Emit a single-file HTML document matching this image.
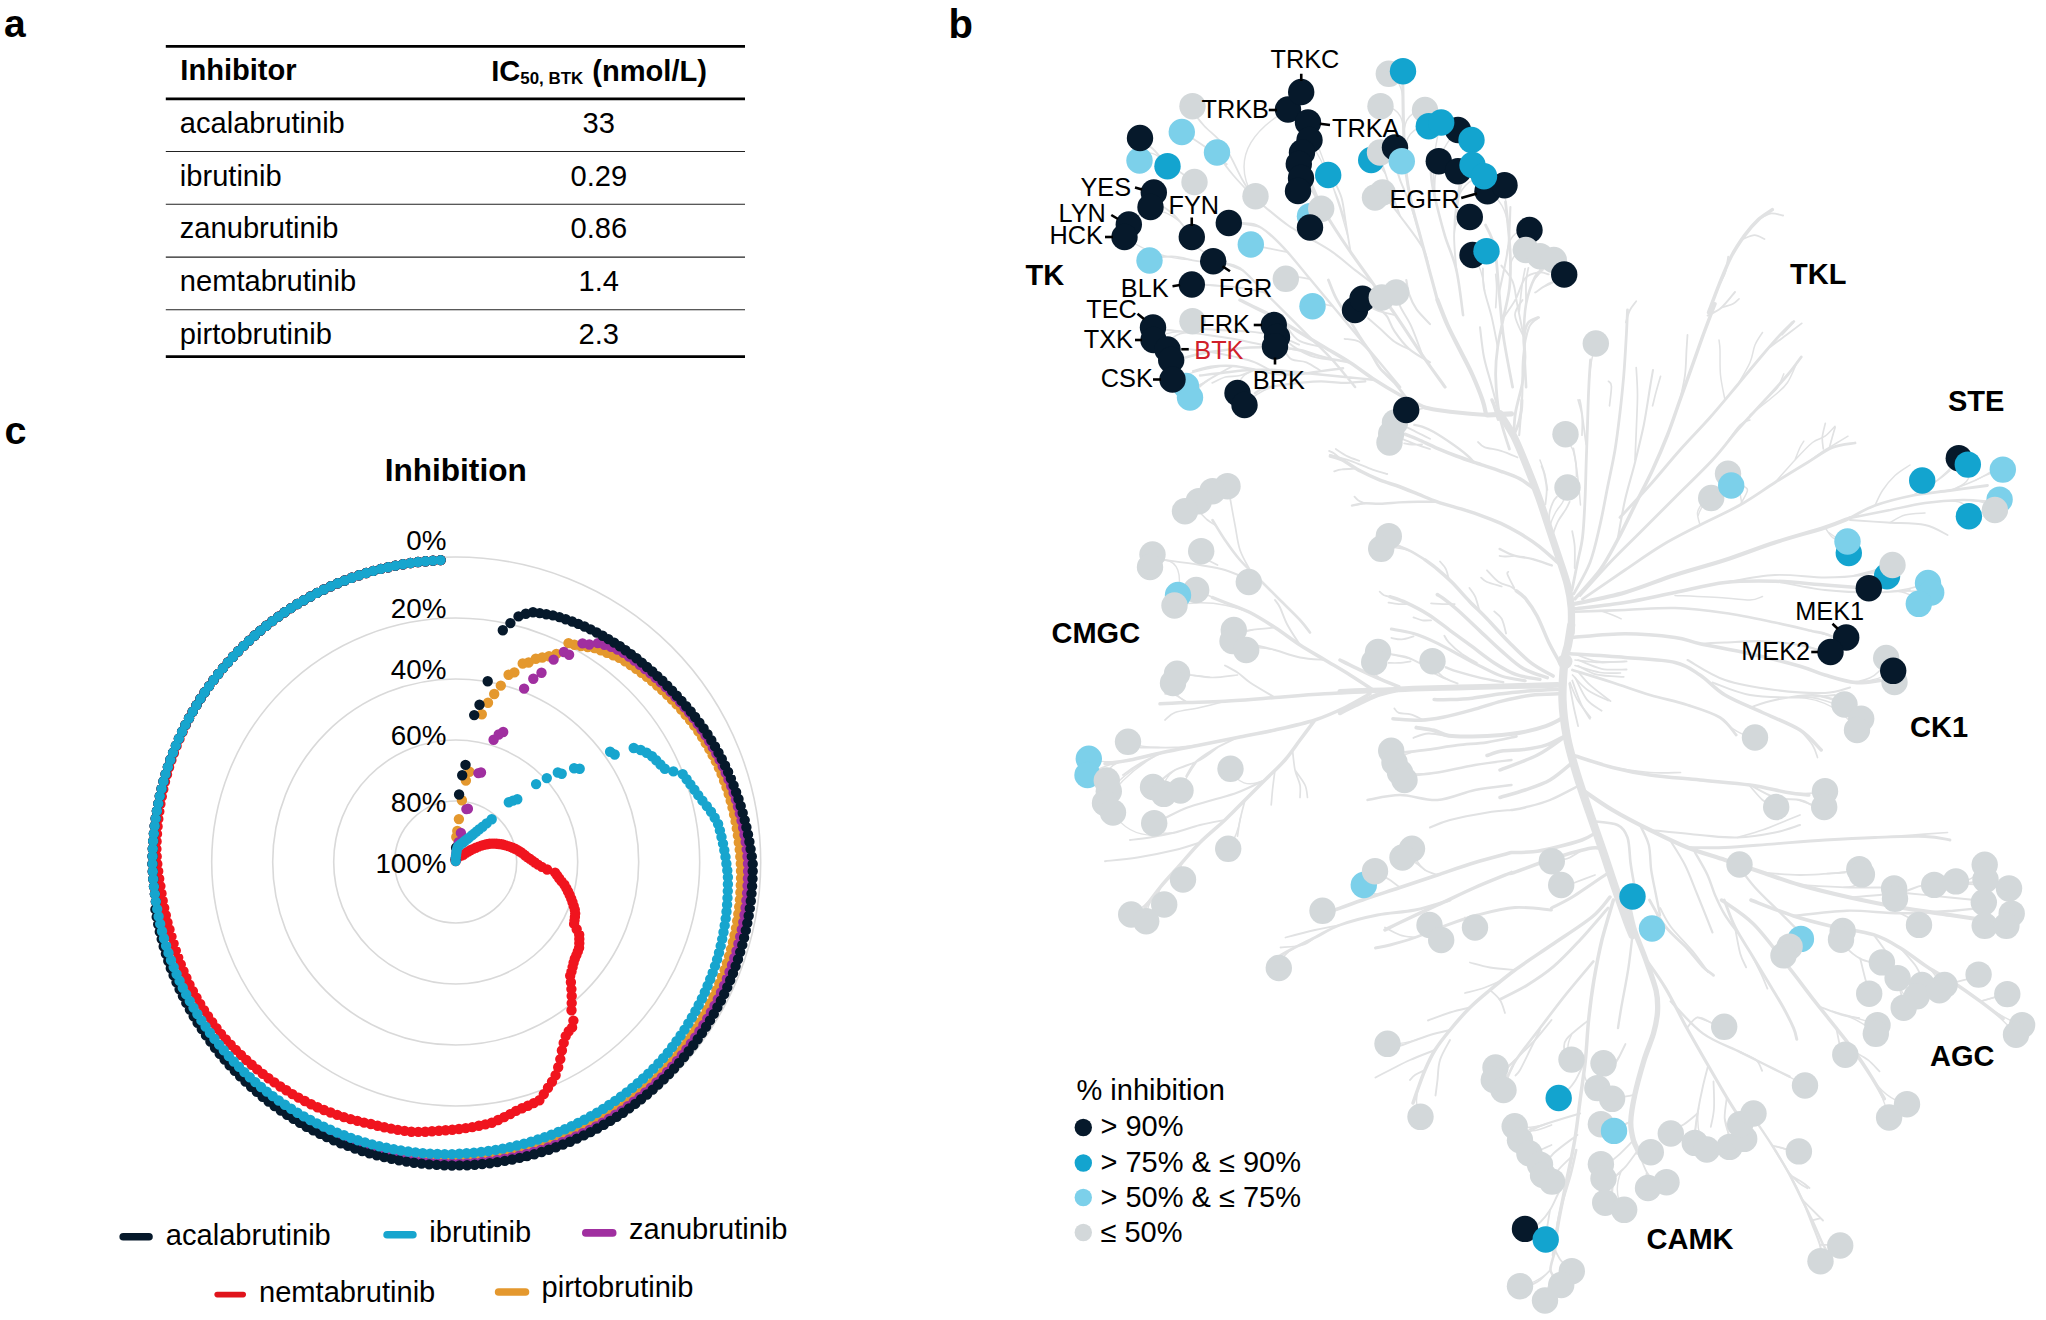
<!DOCTYPE html><html><head><meta charset="utf-8"><title>BTK inhibitor kinome selectivity</title>
<style>html,body{margin:0;padding:0;background:#fff}svg{display:block}text{font-family:"Liberation Sans", Arial, Helvetica, sans-serif;fill:#000}.b{font-weight:bold}</style></head><body>
<svg width="2046" height="1320" viewBox="0 0 2046 1320">
<rect width="2046" height="1320" fill="#fff"/>
<text class="b" x="4.1" y="37.2" font-size="39">a</text>
<text class="b" x="948.5" y="37.5" font-size="40">b</text>
<text class="b" x="4.6" y="444" font-size="39.5">c</text>
<g stroke="#000">
<line x1="165.8" x2="745" y1="46.3" y2="46.3" stroke-width="2.8"/>
<line x1="165.8" x2="745" y1="98.8" y2="98.8" stroke-width="2.8"/>
<line x1="165.8" x2="745" y1="151.5" y2="151.5" stroke-width="1.1" stroke="#222"/>
<line x1="165.8" x2="745" y1="204.3" y2="204.3" stroke-width="1.1" stroke="#222"/>
<line x1="165.8" x2="745" y1="257.1" y2="257.1" stroke-width="1.1" stroke="#222"/>
<line x1="165.8" x2="745" y1="309.7" y2="309.7" stroke-width="1.1" stroke="#222"/>
<line x1="165.8" x2="745" y1="356.7" y2="356.7" stroke-width="2.8"/>
</g>
<text class="b" x="180.3" y="79.8" font-size="29.1">Inhibitor</text>
<text class="b" x="491.2" y="80.8" font-size="29.1">IC<tspan font-size="16.9" dy="2.9">50, BTK</tspan><tspan dy="-2.9" dx="1"> (nmol/L)</tspan></text>
<text x="179.8" y="132.9" font-size="29.1">acalabrutinib</text>
<text x="598.8" y="132.9" font-size="29.1" text-anchor="middle">33</text>
<text x="179.8" y="185.7" font-size="29.1">ibrutinib</text>
<text x="598.8" y="185.7" font-size="29.1" text-anchor="middle">0.29</text>
<text x="179.8" y="238.2" font-size="29.1">zanubrutinib</text>
<text x="598.8" y="238.2" font-size="29.1" text-anchor="middle">0.86</text>
<text x="179.8" y="290.9" font-size="29.1">nemtabrutinib</text>
<text x="598.8" y="290.9" font-size="29.1" text-anchor="middle">1.4</text>
<text x="179.8" y="343.6" font-size="29.1">pirtobrutinib</text>
<text x="598.8" y="343.6" font-size="29.1" text-anchor="middle">2.3</text>
<text class="b" x="455.7" y="480.6" font-size="31.6" text-anchor="middle">Inhibition</text>
<g fill="none" stroke="#d9d9d9" stroke-width="1.6">
<circle cx="455.7" cy="862.0" r="61"/>
<circle cx="455.7" cy="862.0" r="122"/>
<circle cx="455.7" cy="862.0" r="183"/>
<circle cx="455.7" cy="862.0" r="244"/>
<circle cx="455.7" cy="862.0" r="305"/>
</g>
<path d="M455.7 860h0M456.3 837h0M457.3 831h0M458.9 819.1h0M461.9 800.3h0M465.9 780.6h0M469.4 771.8h0M481.8 714.3h0M488 702.8h0M494.2 694h0M500.8 685.6h0M508.6 674.7h0M514.4 672.4h0M522.7 663.5h0M528.6 662.5h0M535.8 658.8h0M542.3 657.5h0M549 656.2h0M556.4 653.9h0M568.5 643.1h0M574.5 644.8h0M581 646h0M587.7 647h0M594.5 648.1h0M600.8 650.3h0M607 652.7h0M613.2 655.2h0M619.3 657.9h0M625.1 661.3h0M630.6 665h0M636.1 668.8h0M641.5 672.7h0M646.8 676.8h0M652 681.1h0M657.1 685.5h0M662.1 690h0M667.1 694.7h0M671.9 699.5h0M676.6 704.4h0M681.2 709.5h0M685.6 714.8h0M690 720.1h0M694.2 725.6h0M698.3 731.2h0M702.1 737h0M705.7 743h0M709.3 749h0M712.6 755.1h0M715.9 761.3h0M718.9 767.7h0M721.6 774.1h0M724.1 780.7h0M726.5 787.3h0M728.7 794h0M730.7 800.8h0M732.5 807.6h0M734.1 814.5h0M735.6 821.4h0M736.8 828.4h0M737.9 835.4h0M738.8 842.5h0M739.7 849.6h0M740.3 856.7h0M740.8 863.8h0M741 870.9h0M741 878.1h0M740.8 885.2h0M740.4 892.4h0M739.9 899.6h0M739.2 906.7h0M738.3 913.9h0M737.2 921h0M736 928.1h0M734.5 935.2h0M732.9 942.2h0M731.1 949.2h0M729.1 956.2h0M726.9 963.1h0M724.6 969.9h0M722 976.7h0M719.3 983.5h0M716.4 990.2h0M713.4 996.8h0M710.1 1003.3h0M706.8 1009.8h0M703.2 1016.1h0M699.5 1022.4h0M695.6 1028.6h0M691.6 1034.7h0M687.4 1040.8h0M683.1 1046.7h0M678.6 1052.5h0M673.9 1058.2h0M669.1 1063.7h0M664.2 1069.2h0M659.1 1074.5h0M653.8 1079.6h0M648.3 1084.6h0M642.8 1089.4h0M637.1 1094.1h0M631.3 1098.7h0M625.4 1103.1h0M619.4 1107.4h0M613.3 1111.5h0M607 1115.5h0M600.7 1119.3h0M594.3 1123h0M587.8 1126.5h0M581.2 1129.8h0M574.5 1133h0M567.7 1136h0M560.9 1138.9h0M553.9 1141.5h0M546.9 1144h0M539.9 1146.3h0M532.8 1148.5h0M525.6 1150.4h0M518.4 1152.2h0M511.1 1153.8h0M503.8 1155.2h0M496.5 1156.5h0M489.1 1157.5h0M481.7 1158.4h0M474.3 1159.1h0M466.9 1159.6h0M459.4 1159.9h0M452 1160h0M444.5 1160h0M437 1159.7h0M429.6 1159.2h0M422.1 1158.6h0M414.7 1157.8h0M407.3 1156.8h0M399.9 1155.6h0M392.6 1154.2h0M385.2 1152.6h0M378 1150.9h0M370.7 1149h0M363.5 1146.9h0M356.4 1144.6h0M349.3 1142.1h0M342.3 1139.4h0M335.3 1136.6h0M328.5 1133.6h0M321.7 1130.5h0M314.9 1127.1h0M308.3 1123.6h0M301.7 1119.9h0M295.3 1116.1h0M288.9 1112.1h0M282.6 1107.9h0M276.4 1103.6h0M270.4 1099.1h0M264.4 1094.5h0M258.6 1089.7h0M252.9 1084.8h0M247.3 1079.7h0M241.8 1074.5h0M236.6 1069.1h0M231.5 1063.6h0M226.5 1057.9h0M221.7 1052.1h0M217 1046.2h0M212.4 1040.1h0M208.1 1034h0M203.8 1027.7h0M199.8 1021.4h0M195.9 1014.9h0M192.1 1008.4h0M188.5 1001.7h0M185.1 995h0M181.9 988.2h0M178.8 981.3h0M175.9 974.3h0M173.2 967.3h0M170.6 960.2h0M168.3 953h0M166.1 945.8h0M164.1 938.5h0M162.2 931.2h0M160.6 923.8h0M159.2 916.4h0M157.9 909h0M155.9 901.6h0M154.9 894.1h0M154 886.6h0M153.3 879h0M152.8 871.5h0M152.5 863.9h0M152.6 856.3h0M152.8 848.7h0M153.2 841.1h0M153.9 833.6h0M154.7 826h0M155.7 818.5h0M156.9 811h0M158.3 803.6h0M159.8 796.1h0M161.6 788.8h0M163.5 781.4h0M165.6 774.1h0M167.9 766.9h0M170.4 759.7h0M173.1 752.6h0M175.9 745.6h0M178.9 738.6h0M182.1 731.7h0M185.4 724.9h0M189 718.2h0M192.7 711.6h0M196.5 705.1h0M200.5 698.6h0M204.7 692.3h0M209.1 686.1h0M213.6 680h0M218.2 674h0M223 668.1h0M227.9 662.4h0M233 656.7h0M238.2 651.2h0M243.6 645.9h0M249.1 640.6h0M254.7 635.5h0M260.4 630.6h0M266.3 625.8h0M272.3 621.1h0M278.4 616.6h0M284.6 612.3h0M290.9 608.1h0M297.3 604h0M303.8 600.2h0M310.4 596.5h0M317.1 592.9h0M323.9 589.5h0M330.8 586.3h0M337.7 583.3h0M344.7 580.5h0M351.8 577.8h0M359 575.3h0M366.2 573h0M373.4 570.9h0M380.8 568.9h0M388.1 567.2h0M395.5 565.6h0M403 564.2h0M410.5 563h0M418 562h0M425.5 561.2h0M433 560.6h0M440.6 560.1h0" fill="none" stroke="#E4982E" stroke-width="10.4" stroke-linecap="round"/>
<path d="M455.7 860h0M455.8 857.7h0M456 855.4h0M456.4 853.1h0M456.9 850h0M457.7 846.1h0M458.7 842.2h0M460.9 832.9h0M466.4 809.1h0M467.9 808.7h0M478.4 773.1h0M481 772.5h0M493.6 739.8h0M498.7 734.5h0M503.2 732h0M524.1 688.6h0M533.3 678.8h0M541.5 672.7h0M553.6 659.6h0M563.9 652h0M569.1 654.7h0M582.5 643.4h0M589.3 644.5h0M597.8 643.1h0M604.5 644.8h0M611.1 646.9h0M617.5 649.5h0M623.5 652.7h0M629 656.6h0M634.5 660.6h0M639.8 664.7h0M645.1 669h0M650.4 673.3h0M655.6 677.8h0M660.7 682.3h0M665.7 687h0M670.6 691.9h0M675.4 696.8h0M680.1 702h0M684.6 707.2h0M689.1 712.6h0M693.4 718.1h0M697.6 723.7h0M701.6 729.5h0M705.5 735.3h0M709.2 741.3h0M712.8 747.4h0M716.3 753.6h0M719.6 759.9h0M722.7 766.3h0M725.7 772.8h0M728.5 779.4h0M731.2 786h0M733.6 792.8h0M735.9 799.6h0M737.9 806.5h0M739.8 813.5h0M741.5 820.6h0M743.1 827.7h0M744.5 834.8h0M745.7 842h0M746.7 849.2h0M747.5 856.5h0M748 863.8h0M748.1 871.2h0M747.9 878.5h0M747.6 885.8h0M747.1 893.1h0M746.4 900.4h0M745.6 907.7h0M744.5 915h0M743.3 922.2h0M741.8 929.5h0M740.2 936.7h0M738.4 943.8h0M736.5 950.9h0M734.3 958h0M732 965h0M729.5 971.9h0M726.9 978.8h0M724 985.6h0M721 992.4h0M717.8 999.1h0M714.5 1005.7h0M710.9 1012.2h0M707.3 1018.7h0M703.4 1025h0M699.4 1031.3h0M695.2 1037.4h0M690.9 1043.5h0M686.4 1049.4h0M681.8 1055.2h0M677 1061h0M672.1 1066.6h0M667.1 1072h0M661.8 1077.4h0M656.4 1082.5h0M650.9 1087.6h0M645.3 1092.5h0M639.5 1097.2h0M633.7 1101.8h0M627.7 1106.3h0M621.6 1110.6h0M615.3 1114.8h0M609 1118.8h0M602.6 1122.7h0M596.1 1126.4h0M589.5 1129.9h0M582.8 1133.3h0M576 1136.5h0M569.1 1139.5h0M562.2 1142.3h0M555.2 1145h0M548.1 1147.5h0M540.9 1149.9h0M533.7 1152h0M526.5 1154h0M519.2 1155.8h0M511.8 1157.4h0M504.4 1158.8h0M497 1160h0M489.5 1161.1h0M482 1162h0M474.5 1162.6h0M467 1163.1h0M459.5 1163.4h0M451.9 1163.5h0M444.4 1163.3h0M436.8 1162.9h0M429.3 1162.4h0M421.8 1161.7h0M414.3 1160.7h0M406.8 1159.6h0M399.4 1158.3h0M392 1156.8h0M384.6 1155.2h0M377.3 1153.3h0M370 1151.3h0M362.8 1149h0M355.7 1146.7h0M348.6 1144.1h0M341.5 1141.3h0M334.6 1138.4h0M327.7 1135.3h0M320.9 1132h0M314.2 1128.6h0M307.5 1124.9h0M301 1121.2h0M294.5 1117.2h0M288.2 1113.1h0M281.9 1108.9h0M275.8 1104.5h0M269.8 1099.9h0M263.9 1095.2h0M258.1 1090.3h0M252.4 1085.3h0M246.9 1080.2h0M241.5 1074.9h0M236.2 1069.4h0M231.1 1063.9h0M226.2 1058.2h0M221.3 1052.4h0M216.7 1046.4h0M212.1 1040.4h0M207.7 1034.2h0M203.5 1027.9h0M199.5 1021.6h0M195.6 1015.1h0M191.8 1008.5h0M188.3 1001.9h0M184.9 995.1h0M181.6 988.3h0M178.6 981.4h0M175.7 974.4h0M173 967.4h0M170.4 960.2h0M168.1 953.1h0M165.9 945.8h0M163.9 938.6h0M162.1 931.2h0M160.5 923.9h0M159 916.4h0M157.8 909h0M155.9 901.6h0M154.9 894.1h0M154 886.6h0M153.3 879h0M152.8 871.5h0M152.5 863.9h0M152.6 856.3h0M152.8 848.7h0M153.2 841.1h0M153.9 833.6h0M154.7 826h0M155.7 818.5h0M156.9 811h0M158.3 803.6h0M159.8 796.1h0M161.6 788.8h0M163.5 781.4h0M165.6 774.1h0M167.9 766.9h0M170.4 759.7h0M173.1 752.6h0M175.9 745.6h0M178.9 738.6h0M182.1 731.7h0M185.4 724.9h0M189 718.2h0M192.7 711.6h0M196.5 705.1h0M200.5 698.6h0M204.7 692.3h0M209.1 686.1h0M213.6 680h0M218.2 674h0M223 668.1h0M227.9 662.4h0M233 656.7h0M238.2 651.2h0M243.6 645.9h0M249.1 640.6h0M254.7 635.5h0M260.4 630.6h0M266.3 625.8h0M272.3 621.1h0M278.4 616.6h0M284.6 612.3h0M290.9 608.1h0M297.3 604h0M303.8 600.2h0M310.4 596.5h0M317.1 592.9h0M323.9 589.5h0M330.8 586.3h0M337.7 583.3h0M344.7 580.5h0M351.8 577.8h0M359 575.3h0M366.2 573h0M373.4 570.9h0M380.8 568.9h0M388.1 567.2h0M395.5 565.6h0M403 564.2h0M410.5 563h0M418 562h0M425.5 561.2h0M433 560.6h0M440.6 560.1h0" fill="none" stroke="#A02FA0" stroke-width="10.4" stroke-linecap="round"/>
<path d="M455.7 861h0M455.7 860.8h0M455.8 860.6h0M455.8 860.4h0M455.9 860.1h0M456 859.9h0M456 859.7h0M456.1 859.5h0M456.2 859.3h0M456.4 859.1h0M456.5 858.9h0M456.6 858.8h0M456.8 858.6h0M456.9 858.4h0M457.1 858.2h0M457.3 858h0M457.5 857.8h0M457.7 857.6h0M457.9 857.4h0M458.2 857.2h0M458.5 857h0M458.7 856.8h0M459 856.6h0M459.3 856.5h0M459.6 856.3h0M459.9 856.2h0M460.2 856.1h0M460.5 856h0M460.9 855.8h0M461.5 855.5h0M462.1 855.2h0M462.7 854.9h0M463.3 854.7h0M464.5 853.9h0M466.5 852.5h0M468.7 851.2h0M470.8 850h0M473.2 848.9h0M475.8 847.7h0M478.5 846.6h0M481.3 845.6h0M484 844.9h0M486.7 844.3h0M489.5 843.8h0M492 843.6h0M494.3 843.6h0M496.7 843.7h0M499 844h0M501.4 844.3h0M503.6 844.8h0M505.9 845.4h0M508.2 846.1h0M510.5 846.9h0M512.7 847.8h0M515 848.8h0M517.2 849.9h0M519.3 851.2h0M521.3 852.5h0M523.2 853.9h0M525.2 855.5h0M527.1 857.1h0M529.7 858.8h0M532.3 860.6h0M534.9 862.5h0M538 864.6h0M541.8 866.9h0M547.1 869.5h0M555.1 872.6h0M557.1 875.4h0M559.1 878.3h0M561.6 881.4h0M564.4 884.8h0M566.3 888.1h0M568 891.5h0M569.7 895h0M571.2 898.6h0M572.5 902.2h0M573.7 906h0M574.8 909.8h0M575.2 913.5h0M574.9 916.9h0M574.5 920.4h0M574.1 923.9h0M576.7 929.2h0M579.2 934.7h0M579.3 939h0M579.3 943.3h0M579.1 947.7h0M577.8 951.4h0M576.4 955.1h0M574.8 958.8h0M573.6 962.7h0M572.6 967.1h0M571.5 971.5h0M570.2 975.8h0M570.9 982.3h0M571.4 989.1h0M571.7 996h0M571.7 1003.1h0M571.5 1010.2h0M573.4 1020.6h0M572.1 1027.4h0M568.7 1031.3h0M565.7 1036.1h0M563.7 1042.9h0M561.9 1050.5h0M560.3 1059.1h0M558.2 1067.3h0M555.6 1075.2h0M552 1081.8h0M548 1087.7h0M543.8 1094.1h0M539.4 1100.3h0M533.7 1103.1h0M527.9 1105.7h0M522 1108.2h0M516 1110.9h0M510.2 1114.1h0M504.2 1117.1h0M498.1 1120h0M491.8 1122.8h0M485.4 1124.4h0M478.9 1125.8h0M472.3 1127.1h0M465.7 1128.1h0M459 1129h0M452.3 1129.8h0M445.6 1130.3h0M438.9 1130.8h0M432 1131.3h0M425.2 1131.7h0M418.3 1131.9h0M411.4 1131.8h0M404.6 1130.9h0M397.8 1129.9h0M391.1 1128.6h0M384.3 1127.3h0M377.6 1125.7h0M370.9 1124h0M364.1 1122.6h0M357.4 1120.9h0M350.6 1119.1h0M343.9 1117.1h0M337.2 1114.9h0M330.6 1112.5h0M324 1110h0M317.5 1107.3h0M311.1 1104.2h0M304.8 1101h0M298.5 1097.6h0M292.4 1094.1h0M286.3 1090.3h0M280.3 1086.5h0M274.4 1082.4h0M268.5 1078.2h0M262.8 1073.9h0M257.2 1069.4h0M251.7 1064.8h0M246.3 1060h0M241 1055h0M235.8 1049.9h0M230.7 1044.7h0M225.8 1039.4h0M221 1033.9h0M216.5 1028.1h0M212.2 1022.2h0M208 1016.2h0M204 1010.1h0M200.2 1003.9h0M196.5 997.6h0M192.9 991.2h0M189.5 984.7h0M186.4 978h0M183.5 971.3h0M180.8 964.4h0M178.2 957.6h0M175.8 950.6h0M173.6 943.6h0M171.5 936.6h0M169.5 929.5h0M167.5 922.4h0M165.8 915.2h0M164.2 908h0M162.7 900.7h0M161.5 893.4h0M160.4 886.1h0M159.2 878.7h0M158.2 871.3h0M157.3 863.9h0M156.7 856.4h0M156.4 848.9h0M156.6 841.4h0M157 833.9h0M157.6 826.4h0M158.3 818.9h0M159.3 811.4h0M160.4 804h0M161.8 796.6h0M163.3 789.2h0M165 781.8h0M167 774.5h0M169.1 767.3h0M171.4 760.1h0M173.9 753h0M176.6 745.9h0M179.5 738.9h0M182.5 732h0M185.7 725.1h0M189.1 718.3h0M192.7 711.6h0M196.5 705.1h0M200.5 698.6h0M204.7 692.3h0M209.1 686.1h0M213.6 680h0M218.2 674h0M223 668.1h0M227.9 662.4h0M233 656.7h0M238.2 651.2h0M243.6 645.9h0M249.1 640.6h0M254.7 635.5h0M260.4 630.6h0M266.3 625.8h0M272.3 621.1h0M278.4 616.6h0M284.6 612.3h0M290.9 608.1h0M297.3 604h0M303.8 600.2h0M310.4 596.5h0M317.1 592.9h0M323.9 589.5h0M330.8 586.3h0M337.7 583.3h0M344.7 580.5h0M351.8 577.8h0M359 575.3h0M366.2 573h0M373.4 570.9h0M380.8 568.9h0M388.1 567.2h0M395.5 565.6h0M403 564.2h0M410.5 563h0M418 562h0M425.5 561.2h0M433 560.6h0M440.6 560.1h0" fill="none" stroke="#F0141E" stroke-width="10.4" stroke-linecap="round"/>
<path d="M455.7 859h0M456.1 847.8h0M459.1 794.5h0M462.2 775.2h0M465.5 764.9h0M474.2 715.1h0M479.5 704.7h0M487.7 681.2h0M502.8 630.2h0M510.4 623.1h0M518.5 616.4h0M525.8 613.8h0M533 612.3h0M539.7 613.1h0M546.3 614.2h0M552.9 615.4h0M559.4 617.1h0M565.7 619.2h0M572.1 621.5h0M578.3 623.9h0M584.5 626.5h0M590.6 629.4h0M596.6 632.5h0M602.6 635.7h0M608.4 639.1h0M614.2 642.6h0M619.9 646.3h0M625.5 650.2h0M631 654.2h0M636.5 658.3h0M641.8 662.6h0M647 667h0M652.3 671.5h0M657.4 676.1h0M662.4 680.8h0M667.3 685.7h0M672.1 690.7h0M676.8 695.8h0M681.5 700.9h0M686.2 706.2h0M690.7 711.5h0M695.1 717h0M699.4 722.6h0M703.6 728.4h0M707.5 734.3h0M711.3 740.3h0M715 746.4h0M718.5 752.7h0M721.8 759h0M725 765.5h0M728.1 772h0M730.9 778.6h0M733.6 785.4h0M736.1 792.2h0M738.5 799h0M740.7 806h0M742.7 813h0M744.7 820.1h0M746.4 827.3h0M748 834.5h0M749.4 841.7h0M750.6 849.1h0M751.8 856.4h0M752.7 863.9h0M752.7 871.3h0M752.5 878.7h0M752.1 886.2h0M751.5 893.6h0M750.8 901h0M749.8 908.4h0M748.7 915.8h0M747.3 923.1h0M745.8 930.4h0M744.1 937.7h0M742.3 944.9h0M740.2 952.1h0M738 959.2h0M735.6 966.3h0M733 973.3h0M730.2 980.3h0M727.3 987.2h0M724.2 994h0M720.9 1000.7h0M717.4 1007.3h0M713.8 1013.9h0M710 1020.4h0M706.1 1026.8h0M702 1033.1h0M697.7 1039.2h0M693.3 1045.3h0M688.7 1051.3h0M684 1057.1h0M679.1 1062.9h0M674.1 1068.5h0M669 1074h0M663.7 1079.3h0M658.2 1084.5h0M652.7 1089.6h0M647 1094.5h0M641.1 1099.3h0M635.2 1103.9h0M629.1 1108.4h0M623 1112.7h0M616.7 1116.9h0M610.3 1120.9h0M603.8 1124.8h0M597.2 1128.5h0M590.5 1132.1h0M583.8 1135.4h0M576.9 1138.6h0M570 1141.7h0M563 1144.5h0M555.9 1147.2h0M548.8 1149.7h0M541.6 1152h0M534.3 1154.2h0M527 1156.1h0M519.6 1157.9h0M512.2 1159.5h0M504.8 1160.9h0M497.3 1162.1h0M489.8 1163.2h0M482.2 1164h0M474.7 1164.7h0M467.1 1165.2h0M459.5 1165.4h0M451.9 1165.5h0M444.3 1165.3h0M436.7 1164.9h0M429.1 1164.4h0M421.6 1163.6h0M414 1162.7h0M406.5 1161.6h0M399 1160.3h0M391.6 1158.8h0M384.2 1157.1h0M376.8 1155.2h0M369.5 1153.2h0M362.2 1151h0M355 1148.5h0M347.9 1145.9h0M340.8 1143.2h0M333.8 1140.2h0M326.8 1137.1h0M320 1133.8h0M313.2 1130.3h0M306.5 1126.7h0M300 1122.9h0M293.5 1118.9h0M287.1 1114.8h0M280.8 1110.5h0M274.6 1106.1h0M268.6 1101.5h0M262.6 1096.7h0M256.8 1091.8h0M251.1 1086.8h0M245.5 1081.6h0M240.1 1076.3h0M234.8 1070.8h0M229.6 1065.2h0M224.6 1059.5h0M219.7 1053.7h0M215 1047.7h0M210.4 1041.6h0M206 1035.4h0M201.8 1029.1h0M197.6 1022.7h0M193.7 1016.2h0M189.9 1009.6h0M186.3 1002.9h0M182.9 996.1h0M179.6 989.2h0M176.5 982.3h0M173.6 975.3h0M170.8 968.2h0M168.3 961h0M165.9 953.8h0M163.7 946.5h0M161.7 939.1h0M159.8 931.8h0M158.2 924.3h0M156.7 916.9h0M155.4 909.4h0M155.9 901.6h0M154.9 894.1h0M154 886.6h0M153.3 879h0M152.8 871.5h0M152.5 863.9h0M152.6 856.3h0M152.8 848.7h0M153.2 841.1h0M153.9 833.6h0M154.7 826h0M155.7 818.5h0M156.9 811h0M158.3 803.6h0M159.8 796.1h0M161.6 788.8h0M163.5 781.4h0M165.6 774.1h0M167.9 766.9h0M170.4 759.7h0M173.1 752.6h0M175.9 745.6h0M178.9 738.6h0M182.1 731.7h0M185.4 724.9h0M189 718.2h0M192.7 711.6h0M196.5 705.1h0M200.5 698.6h0M204.7 692.3h0M209.1 686.1h0M213.6 680h0M218.2 674h0M223 668.1h0M227.9 662.4h0M233 656.7h0M238.2 651.2h0M243.6 645.9h0M249.1 640.6h0M254.7 635.5h0M260.4 630.6h0M266.3 625.8h0M272.3 621.1h0M278.4 616.6h0M284.6 612.3h0M290.9 608.1h0M297.3 604h0M303.8 600.2h0M310.4 596.5h0M317.1 592.9h0M323.9 589.5h0M330.8 586.3h0M337.7 583.3h0M344.7 580.5h0M351.8 577.8h0M359 575.3h0M366.2 573h0M373.4 570.9h0M380.8 568.9h0M388.1 567.2h0M395.5 565.6h0M403 564.2h0M410.5 563h0M418 562h0M425.5 561.2h0M433 560.6h0M440.6 560.1h0" fill="none" stroke="#06192B" stroke-width="10.4" stroke-linecap="round"/>
<path d="M455.7 861h0M455.8 858h0M456.1 855h0M456.5 852h0M456.9 849.6h0M457.5 847.6h0M458.1 846.5h0M458.5 846.1h0M459 845.7h0M459.5 845.3h0M460.1 844.8h0M460.7 844.3h0M461.3 843.8h0M462 843.3h0M462.8 842.7h0M463.6 842h0M464.5 841.3h0M465.4 840.5h0M466.5 839.6h0M467.7 838.7h0M469.1 837.6h0M470.6 836.4h0M472.3 835h0M474.3 833.4h0M476.6 831.5h0M479.3 829.3h0M482.6 826.7h0M486.6 823.4h0M491.7 819.3h0M508.8 802.2h0M513 800.6h0M517.3 799.2h0M536.1 784.1h0M546.8 778.1h0M557.8 772.5h0M561.7 773.7h0M574.1 768.2h0M579.7 768.8h0M610.1 751.8h0M614.7 754.5h0M633.7 748h0M640.7 750h0M646.6 752.8h0M652 756.2h0M656.2 760.3h0M660.4 764.5h0M664.8 768.8h0M673.4 771.4h0M682.7 774.1h0M686.6 779.2h0M690.4 784.4h0M694.4 789.7h0M698.2 795.1h0M702.4 800.6h0M706.8 806.1h0M711 811.8h0M714.7 817.8h0M718.1 824h0M719.9 830.4h0M721.5 837h0M723 843.6h0M724.3 850.2h0M725.5 856.9h0M726.4 863.7h0M727.3 870.5h0M727.9 877.3h0M727.9 884.2h0M727.8 891.1h0M727.5 897.9h0M727.1 904.8h0M726.5 911.7h0M725.7 918.6h0M724.7 925.4h0M723.5 932.3h0M722.2 939.1h0M720.7 945.9h0M719 952.7h0M717.1 959.4h0M715 966.1h0M712.7 972.7h0M710.2 979.3h0M707.6 985.8h0M704.8 992.3h0M701.9 998.7h0M698.7 1005h0M695.4 1011.3h0M691.9 1017.5h0M688.3 1023.5h0M684.5 1029.6h0M680.6 1035.5h0M676.5 1041.3h0M672.2 1047h0M667.8 1052.7h0M663.2 1058.1h0M658.4 1063.4h0M653.4 1068.6h0M648.3 1073.6h0M643.1 1078.5h0M637.7 1083.2h0M632.2 1087.9h0M626.6 1092.4h0M620.9 1096.7h0M615.1 1100.9h0M609.1 1105h0M603.1 1108.9h0M597 1112.7h0M590.7 1116.3h0M584.4 1119.7h0M578 1123h0M571.5 1126.2h0M564.9 1129.2h0M558.3 1132h0M551.5 1134.7h0M544.7 1137.2h0M537.9 1139.5h0M531 1141.7h0M524 1143.7h0M516.9 1145.5h0M509.9 1147.1h0M502.7 1148.6h0M495.6 1149.9h0M488.4 1151h0M481.2 1151.9h0M473.9 1152.7h0M466.6 1153.3h0M459.4 1153.8h0M452 1154.1h0M444.7 1154.1h0M437.4 1154h0M430.1 1153.6h0M422.8 1153.1h0M415.5 1152.4h0M408.2 1151.5h0M400.9 1150.5h0M393.7 1149.2h0M386.4 1147.8h0M379.2 1146.2h0M372.1 1144.4h0M365 1142.4h0M357.9 1140.2h0M350.9 1137.9h0M344 1135.3h0M337.1 1132.6h0M330.3 1129.7h0M323.6 1126.6h0M316.9 1123.4h0M310.3 1120h0M303.8 1116.4h0M297.4 1112.7h0M291.1 1108.8h0M284.9 1104.7h0M278.7 1100.5h0M272.7 1096.1h0M266.8 1091.6h0M261 1087h0M255.3 1082.1h0M249.8 1077.2h0M244.3 1072.1h0M239 1066.8h0M233.8 1061.5h0M228.8 1056h0M223.8 1050.3h0M219.1 1044.6h0M214.4 1038.7h0M209.9 1032.7h0M205.6 1026.6h0M201.4 1020.4h0M197.4 1014h0M193.5 1007.6h0M189.8 1001.1h0M186.2 994.4h0M182.8 987.7h0M179.6 980.9h0M176.6 974.1h0M173.7 967.1h0M171 960.1h0M168.5 952.9h0M166.1 945.8h0M164 938.5h0M162 931.2h0M160.2 923.9h0M158.6 916.5h0M157.2 909.1h0M155.9 901.6h0M154.9 894.1h0M154 886.6h0M153.3 879h0M152.8 871.5h0M152.5 863.9h0M152.6 856.3h0M152.8 848.7h0M153.2 841.1h0M153.9 833.6h0M154.7 826h0M155.7 818.5h0M156.9 811h0M158.3 803.6h0M159.8 796.1h0M161.6 788.8h0M163.5 781.4h0M165.6 774.1h0M167.9 766.9h0M170.4 759.7h0M173.1 752.6h0M175.9 745.6h0M178.9 738.6h0M182.1 731.7h0M185.4 724.9h0M189 718.2h0M192.7 711.6h0M196.5 705.1h0M200.5 698.6h0M204.7 692.3h0M209.1 686.1h0M213.6 680h0M218.2 674h0M223 668.1h0M227.9 662.4h0M233 656.7h0M238.2 651.2h0M243.6 645.9h0M249.1 640.6h0M254.7 635.5h0M260.4 630.6h0M266.3 625.8h0M272.3 621.1h0M278.4 616.6h0M284.6 612.3h0M290.9 608.1h0M297.3 604h0M303.8 600.2h0M310.4 596.5h0M317.1 592.9h0M323.9 589.5h0M330.8 586.3h0M337.7 583.3h0M344.7 580.5h0M351.8 577.8h0M359 575.3h0M366.2 573h0M373.4 570.9h0M380.8 568.9h0M388.1 567.2h0M395.5 565.6h0M403 564.2h0M410.5 563h0M418 562h0M425.5 561.2h0M433 560.6h0M440.6 560.1h0" fill="none" stroke="#17A5CE" stroke-width="10.4" stroke-linecap="round"/>
<text x="446.5" y="549.6" font-size="27.8" text-anchor="end">0%</text>
<text x="446.5" y="617.5" font-size="27.8" text-anchor="end">20%</text>
<text x="446.5" y="679" font-size="27.8" text-anchor="end">40%</text>
<text x="446.5" y="745" font-size="27.8" text-anchor="end">60%</text>
<text x="446.5" y="812" font-size="27.8" text-anchor="end">80%</text>
<text x="446.5" y="873.2" font-size="27.8" text-anchor="end">100%</text>
<line x1="123.2" x2="149" y1="1236.8" y2="1236.8" stroke="#06192B" stroke-width="7.6" stroke-linecap="round"/>
<text x="165.8" y="1244.5" font-size="29.1">acalabrutinib</text>
<line x1="387.1" x2="412.9" y1="1234.7" y2="1234.7" stroke="#17A5CE" stroke-width="7.6" stroke-linecap="round"/>
<text x="429.3" y="1242.1" font-size="29.1">ibrutinib</text>
<line x1="585.8" x2="612.7" y1="1232.9" y2="1232.9" stroke="#A02FA0" stroke-width="7.6" stroke-linecap="round"/>
<text x="629" y="1239.4" font-size="29.1">zanubrutinib</text>
<line x1="217.2" x2="243.2" y1="1294.6" y2="1294.6" stroke="#E0141C" stroke-width="5.6" stroke-linecap="round"/>
<text x="259" y="1301.9" font-size="29.1">nemtabrutinib</text>
<line x1="498.6" x2="525.5" y1="1292" y2="1292" stroke="#E4982E" stroke-width="7.6" stroke-linecap="round"/>
<text x="541.5" y="1297.3" font-size="29.1">pirtobrutinib</text>
<g fill="none" stroke="#e1e2e3" stroke-linecap="round" stroke-linejoin="round">
<path d="M1388.8 73.8Q1402.8 81 1403.1 102.4M1403 71.2Q1402.8 81 1403 96.3M1288 109.5Q1224.5 146.3 1252.7 196.2M1308 122.5Q1332.6 177.8 1348.1 237M1309.5 140Q1332.6 177.8 1345.6 222M1302 152.5Q1310.1 184.5 1327.5 216.6M1298.8 164Q1310.1 184.5 1322.4 208.2M1301 178Q1310.1 184.5 1317.6 199.5M1298 191Q1310.1 184.5 1317.6 199.5M1139.5 160.5Q1147.1 145.4 1162.6 160.1M1128.8 224.5Q1150.3 198 1179 221M1124.5 237Q1152.5 257.7 1191.1 259.8M1228.8 223Q1242.5 223.2 1258.7 226.8M1191.8 284.5Q1204.3 284.7 1220 285.8M1153 327.5Q1166.7 330 1184.6 331.9M1153.5 340Q1166.7 330 1187.7 332.3M1167.5 349.5Q1170.4 330.3 1194 333.1M1310 216.2Q1322.4 208.2 1332.6 225M1310 227.5Q1304.4 235.2 1315.7 241.9M1380.5 106.2Q1403.2 105.4 1403.9 132.8M1425 110Q1403.3 111.5 1404.1 135.8M1428.8 126.2Q1403.6 126.8 1405.1 156.8M1441.2 122.5Q1430.5 157.5 1434.8 196.1M1458 130Q1430.5 157.5 1435.5 199.3M1471.5 140Q1460.9 180 1454.9 224M1395 147.5Q1404.7 147.8 1405.4 162.8M1380 152.5Q1376.5 162.5 1385.1 173.3M1458 171.2Q1460.9 180 1458.3 192.9M1472.5 165Q1460.9 180 1456.4 202.5M1484 176.2Q1460.9 180 1456.2 205.6M1487.5 191.2Q1505.5 201.8 1508.1 226.2M1504.5 185.2Q1505.5 201.8 1507.8 223.1M1469.8 217Q1455.5 214.8 1454.3 233.2M1472.5 255Q1482.9 268.5 1484.7 291M1529.5 230Q1509.2 228.9 1506.9 253.6M1525.8 250Q1510 252.1 1510 271.7M1540 256.2Q1544.1 267.8 1534.1 279.8M1553.8 260Q1544.1 267.8 1534.1 279.8M1564.2 274.5Q1557.6 281.3 1543.2 287.2M1595.8 343.5Q1590.5 360 1589.1 381.4M1171.2 360Q1185.5 357.5 1203.1 353.3M1172.5 379.5Q1193.2 371.1 1220.3 366.4M1186 386Q1196.1 388.8 1209.4 379.4M1190 397.5Q1196.1 388.8 1209.4 379.4M1237.5 393Q1236.6 375.9 1254.9 369.7M1244.5 405Q1254.9 393.2 1273.3 386.6M1395 422.5Q1406.3 427 1406.3 427M1391.2 433.8Q1401.9 438.8 1401.9 438.8M1389.5 442.5Q1401.9 438.8 1401.9 438.8M1227.5 486.2Q1230 497.5 1230 497.5M1212.5 491.2Q1230 497.5 1230 497.5M1198.8 501.2Q1200 512.5 1200 512.5M1185 511.2Q1200 512.5 1200 512.5M1388.8 536.2Q1394.4 545.3 1410.6 551.2M1381.2 548.8Q1394.4 545.3 1410.6 551.2M1152.5 554.5Q1165 560 1165 560M1150 567Q1165 560 1165 560M1201.2 551.2Q1207.5 560 1207.5 560M1196.2 590Q1212.5 597.5 1234.4 606.2M1178 595Q1184.1 562.7 1165 560M1174.5 605.5Q1212.5 597.5 1250 612.5M1728 473.8Q1740 485 1741.5 502M1711.2 498Q1702.5 502.5 1698.1 515.6M1958.8 458.2Q1950 470.5 1934.7 482.2M1967.8 464.6Q1975 480.5 1956.2 488M2002.8 469.6Q1990 472.5 1975 480.5M1999.6 499.6Q1987.5 501.5 1971.9 500.6M1994.9 510Q1987.5 501.5 1971.9 500.6M1968.9 516.2Q1968.8 500.4 1950 501M1848.8 553Q1842.5 541.2 1828.8 532.5M1887 576.2Q1875 570.5 1859.4 575.2M1892.5 565Q1875 570.5 1853.1 575.6M1928 583Q1910 590 1887.7 591.6M1931.2 592.5Q1910 590 1884.5 591.8M1918.8 603.8Q1910 590 1890.9 591.4M1232.5 641Q1237.5 632.5 1253.1 629.7M1246.2 650Q1257.5 645.5 1275 650M1177 673.8Q1190.5 675 1209.4 677.1M1173 683Q1171.7 694.6 1187.5 702.5M1378 652Q1391.4 654.1 1409.5 658.5M1374.2 662Q1368.5 673.7 1386.2 681.5M1432.5 661.2Q1434.1 673.2 1448.8 679.9M1128 741.8Q1140.5 747.5 1159.4 747.5M1088.8 758.8Q1105 763.8 1126.9 760.5M1087.5 775Q1105 763.8 1130 760M1106.8 780.5Q1105 763.8 1126.9 760.5M1108.8 791.2Q1123 775 1145.8 760.8M1105 803Q1123 775 1154.2 756.7M1113 812.5Q1130 840 1165.6 834.4M1153 787Q1161.2 780 1175 770M1163.8 793.8Q1161.2 780 1175 770M1180.5 790.5Q1186.2 776.2 1197.5 760.7M1230.5 768.8Q1240.2 791.2 1265 780M1154.2 823.2Q1156.2 836.2 1175 832.5M1228.2 848.8Q1237.5 836.2 1240.8 816.7M1391.2 750.8Q1403.2 752.6 1418.8 750.7M1394.5 762.5Q1403.2 752.6 1421.9 750.4M1400 772.5Q1413.8 775 1430.7 773.2M1404.5 780Q1413.8 775 1430.7 773.2M1412 848.8Q1413.8 860 1425 870M1402.5 857.5Q1413.8 860 1425 870M1363.8 885Q1368.3 898.1 1385.6 892.3M1164.2 904.5Q1152.5 897.5 1164 883M1131.2 914.5Q1145 907.5 1156.2 892.5M1146.2 921.2Q1145 907.5 1156.2 892.5M1322.5 910.8Q1335 910 1350.3 904.4M1846.2 637.5Q1833.8 637.5 1818.8 632.5M1830.5 652Q1818.8 650 1803.1 645.8M1886.2 658Q1880 680.5 1852 681.8M1894.5 682Q1880 680.5 1861.2 682M1893.2 670.8Q1880 680.5 1858.1 682.2M1844.5 704.5Q1836.2 700 1821.4 696.9M1861.2 718.8Q1836.2 700 1803.1 696.2M1857 730Q1836.2 700 1796.9 697.1M1755 737.5Q1736.2 735 1720 717.5M1825 791.2Q1808.8 795 1787.5 792.5M1824.2 807Q1812.5 805.5 1796.9 799.7M1652 928.5Q1662.3 921.4 1652.7 905.3M1859.3 869.2Q1845 872.5 1827 873.5M1861.9 874.4Q1862.2 887.5 1843.8 887.2M1984.7 864.8Q1975 882.5 1950 883.8M1985.5 879.6Q1975 882.5 1959.4 883.3M2009 888.4Q1975 882.5 1937.5 884.4M2011.7 913.6Q2000 922.5 1981.2 919.7M1789.6 946.7Q1785.6 957.4 1788.2 966.7M1916.7 996.3Q1903 1001.4 1898 981.8M1939.4 990.2Q1940.9 977.9 1927 966.7M2007.3 994.1Q1996.9 996.6 1980.4 1001.4M1877.5 1025.1Q1859 1018 1835.5 1012.5M1875.8 1033.8Q1859 1018 1832.5 1011.3M2022.1 1025.1Q2003.1 1018.8 1982.9 1003.3M2016 1034.7Q2003.1 1018.8 1982.9 1003.3M1845.3 1054.7Q1853.1 1049.7 1843.7 1037.7M1724.2 1026.8Q1712.2 1023.3 1697.5 1017.4M1805 1085.5Q1789.6 1076.7 1769.7 1066.9M1907 1104.2Q1884.3 1098.8 1871 1076.1M1889.1 1117.5Q1884.3 1098.8 1872.6 1079M1571.5 1059.6Q1564.1 1049.5 1571.6 1034.6M1603.5 1063.3Q1611.8 1068.1 1619 1056.9M1495.5 1067.5Q1505.5 1070 1515 1060M1493.8 1080Q1505.9 1081.5 1513.1 1066.2M1597.4 1088.1Q1582.1 1084.8 1584.6 1066.3M1600.9 1124.2Q1614.8 1129.5 1630.8 1121.5M1514.7 1126.3Q1529.4 1129.5 1547.4 1123.5M1520 1140.2Q1529.4 1129.5 1547.4 1123.5M1694.8 1142.9Q1694.8 1132.7 1697 1116.7M1706.8 1149.5Q1694.8 1132.7 1698.7 1107.6M1729.5 1146.9Q1729.5 1136.2 1725.5 1121.7M1744.2 1138.9Q1729.5 1136.2 1724.7 1118.8M1798.9 1151.4Q1789.6 1150.9 1775.8 1146.4M1603.5 1178.5Q1614.2 1180.8 1623.3 1169M1605.2 1202.7Q1612.1 1193.6 1614.8 1177.6M1624.2 1209.8Q1612.1 1193.6 1621.2 1171.2M1520 1286.2Q1531.2 1285 1545.2 1275M1278.8 968Q1280.5 955.5 1295.6 947.2M1387.5 1043.8Q1400 1045 1417.8 1039.4M1420.5 1116.8Q1413 1103 1419.6 1084.3" stroke-width="1.4"/>
<circle cx="1565" cy="661.5" r="7.5" fill="#e1e2e3" stroke="none"/>
<path d="M1725 400C1724.2 395.8 1721.3 383.3 1720.5 375C1719.7 366.7 1720.2 355.8 1720 350C1719.8 344.2 1719.2 341.7 1719 340M1737.5 385C1739.6 381.2 1747.1 369.2 1750 362.5C1752.9 355.8 1752.9 350 1755 345C1757.1 340 1761.2 334.6 1762.5 332.5M1750 415C1754.2 411.7 1768.8 400.4 1775 395C1781.2 389.6 1783.8 388.1 1787.5 382.5C1791.2 376.9 1795.8 364.8 1797.5 361.2M1725 445C1727.5 441.7 1735.8 429.2 1740 425C1744.2 420.8 1748.3 420.8 1750 420M1765 400C1767.1 397.9 1774.4 391.9 1777.5 387.5C1780.6 383.1 1782.7 376 1783.8 373.8M1775 482.5C1778.3 478.8 1788.8 466.7 1795 460C1801.2 453.3 1807.5 446.5 1812.5 442.5C1817.5 438.5 1821.2 439 1825 436.2C1828.8 433.5 1833.3 427.9 1835 426.2M1807.5 462.5C1810.4 460.4 1820 453.3 1825 450C1830 446.7 1833.7 444.8 1837.5 442.5C1841.3 440.2 1846.2 437.3 1848 436.2M1795 460C1795.8 457.9 1798.5 450.6 1800 447.5C1801.5 444.4 1803.1 442.3 1803.8 441.2M1700 525C1699.6 522.9 1697.1 516.2 1697.5 512.5C1697.9 508.8 1701.7 504.2 1702.5 502.5M1740 505C1741.2 502.5 1747.5 493.3 1747.5 490C1747.5 486.7 1741.2 485.8 1740 485M1875 505.5C1876.2 503 1879.2 495.5 1882.5 490.5C1885.8 485.5 1890.4 479.8 1895 475.5C1899.6 471.2 1907.5 466.8 1910 465M1912.5 495.5C1916.7 493 1931.2 484.7 1937.5 480.5C1943.8 476.3 1947.9 472.2 1950 470.5M1950 490.5C1954.2 488.8 1968.3 483.5 1975 480.5C1981.7 477.5 1987.5 473.8 1990 472.5M1890 522.5C1892.5 521.2 1899.2 516.6 1905 515C1910.8 513.4 1921.7 513.3 1925 513M1825 527.5C1826.2 529.2 1829.6 535.2 1832.5 537.5C1835.4 539.8 1840.8 540.6 1842.5 541.2M1600 610.5C1602.1 611.2 1609 613.6 1612.5 615C1616 616.4 1619.8 618.1 1621.2 618.8M1675 595.5C1683.3 595.9 1712.5 597.2 1725 598C1737.5 598.8 1743.8 600.2 1750 600C1756.2 599.8 1760.4 597.1 1762.5 596.5M1565.5 440C1566.8 441.7 1571 444.2 1573 450C1575 455.8 1576.2 465.8 1577.5 475C1578.8 484.2 1580 500 1580.5 505M1567 492.5C1566.2 494.2 1564.4 499.2 1562.5 502.5C1560.6 505.8 1557.5 508.8 1555.5 512.5C1553.5 516.2 1551.2 520.8 1550.5 525C1549.8 529.2 1551.3 535.4 1551.5 537.5M1540 460C1540.8 462.5 1543.8 470 1545 475C1546.2 480 1547.1 487.5 1547.5 490" stroke-width="1.5"/>
<path d="M1625.8 322.5C1626.5 320.4 1628.2 313.5 1630 310C1631.8 306.5 1635.2 302.7 1636.2 301.2M1635 460C1635.2 454.2 1636.1 435.8 1636.5 425C1636.9 414.2 1637.5 404.6 1637.5 395C1637.5 385.4 1636.5 372.1 1636.2 367.5M1800 730C1802.1 732.5 1809.6 740.4 1812.5 745C1815.4 749.6 1816.7 755.4 1817.5 757.5M1575 660C1579.2 660.4 1591.7 662.2 1600 662.5C1608.3 662.8 1620.8 661.7 1625 661.5M1575 665.5C1579.2 666.7 1592.4 671.2 1600 672.5C1607.6 673.8 1617.1 672.9 1620.5 673M1572.5 675C1575 677.5 1581.6 685.8 1587.5 690C1593.4 694.2 1604.6 698.8 1608 700.5M1570 682.5C1571.2 685.4 1574.1 694.2 1577.5 700C1580.9 705.8 1588.3 714.6 1590.5 717.5M1750 786.2C1752.1 788.5 1759.1 797.1 1762.5 800C1765.9 802.9 1769.2 803.1 1770.5 803.8M1612.5 767.5C1618.8 768.3 1638.7 771.7 1650 772.5C1661.3 773.3 1675.4 772.5 1680.5 772.5M1875 837.5C1881.2 837.1 1900.4 835.8 1912.5 835C1924.6 834.2 1941.7 832.9 1947.5 832.5M1737.5 837.5C1741.7 836.2 1754.2 832.9 1762.5 830C1770.8 827.1 1781.2 822.5 1787.5 820C1793.8 817.5 1797.9 815.8 1800 815M1582.5 850C1580.4 851.2 1573.5 855.8 1570 857.5C1566.5 859.2 1562.7 859.6 1561.2 860M1595 875C1591.7 876.2 1579.4 880.8 1575 882.5C1570.6 884.2 1569.8 884.6 1568.8 885M1275 627.5C1270.8 627.9 1256.2 629.2 1250 630C1243.8 630.8 1239.6 632.1 1237.5 632.5M1292.5 750C1292.9 753.3 1293.8 764.2 1295 770C1296.2 775.8 1299.2 780.4 1300 785C1300.8 789.6 1300 795.4 1300 797.5M1295 770C1296.7 772.5 1302.9 780.4 1305 785C1307.1 789.6 1307.1 795.4 1307.5 797.5M1275 770C1274.6 773.3 1273.1 784.2 1272.5 790C1271.9 795.8 1271.5 802.5 1271.2 805M1245 800C1244.2 803.3 1241.2 814 1240 820C1238.8 826 1237.9 833.5 1237.5 836.2M1180 865 1185 872.5M1187.5 702.5C1185.4 701.2 1178.8 696.5 1175 695C1171.2 693.5 1166.7 694 1165 693.8M1225 701.2C1220.8 702.3 1208.3 705.6 1200 707.5C1191.7 709.4 1180.8 710.4 1175 712.5C1169.2 714.6 1166.7 718.8 1165 720M1237.5 675C1233.3 675.4 1220.3 677.5 1212.5 677.5C1204.7 677.5 1194.2 675.4 1190.5 675M1437.5 875C1435.4 874.2 1429 872.5 1425 870C1421 867.5 1415.6 861.7 1413.8 860M1400 887.5C1398.3 886.2 1393.2 882.1 1390 880C1386.8 877.9 1382.1 875.8 1380.5 875M1425 408C1423.3 408.3 1417.5 409.6 1415 410C1412.5 410.4 1410.8 410.4 1410 410.5M1230 497.5C1230.8 502.1 1233.3 516.2 1235 525C1236.7 533.8 1237.5 542.5 1240 550C1242.5 557.5 1248.3 566.7 1250 570M1200 512.5C1201.2 513.8 1205 517.9 1207.5 520C1210 522.1 1213.8 524.2 1215 525M1207.5 560 1217.5 565M1410.6 661.4C1408.6 661.7 1402.5 662.7 1398.8 662.9C1395.1 663.1 1390.2 662.9 1388.5 662.9M1721.3 307.7C1723.3 307.1 1730.1 305.3 1733.1 303.8C1736 302.3 1738 299.7 1739 298.9M1652.6 405.8C1653.3 403.2 1655.2 395 1656.6 390.1C1657.9 385.2 1659.8 378.7 1660.5 376.4M1582 435.2C1582 431.9 1582.7 421.5 1582 415.6C1581.4 409.7 1578.7 402.5 1578.1 399.9M1609.5 405.8C1609.8 402.5 1611.6 390.3 1611.4 386.2C1611.3 382.1 1609 382.1 1608.5 381.3M1825.3 423.4C1824.8 425.7 1822.7 432.9 1822.3 437.2C1822 441.4 1823.1 447 1823.3 449M1835.1 427.4C1834.4 429.7 1832.1 437.5 1831.2 441.1C1830.2 444.7 1829.5 447.6 1829.2 449M1519.2 311.6C1519.7 307.1 1521.2 291.4 1522.2 284.2C1523.2 277 1524.6 271.1 1525.1 268.5M1495.7 307.7C1495.9 304.4 1496.7 293.6 1496.7 288.1C1496.7 282.5 1495.9 276.6 1495.7 274.4" stroke-width="1.7"/>
<path d="M1680 400C1680.8 395.8 1683.9 383.3 1685 375C1686.1 366.7 1686.1 356.7 1686.5 350C1686.9 343.3 1687.3 337.5 1687.5 335M1524 337.5C1522.5 333.8 1515.2 321.2 1515 315C1514.8 308.8 1521.2 302.5 1522.5 300M1516.4 590.9C1515.4 590.1 1513.5 587.9 1510.5 586.5C1507.6 585 1502.7 584.7 1498.8 582C1494.8 579.4 1489 572.2 1487 570.3M1514.2 587.9C1513.1 585.7 1508.6 577.4 1507.6 574.7C1506.6 572 1508.2 572.2 1508.3 571.8M1501.7 586.5C1499.2 585.7 1490.4 583.5 1487 582C1483.6 580.6 1482.1 578.4 1481.1 577.6M1479.6 611.4C1478.9 609 1476.9 600.7 1475.2 596.7C1473.5 592.8 1470.3 589.4 1469.4 587.9M1448.8 579.1C1448.3 577.4 1447.3 571.8 1445.8 568.8C1444.4 565.9 1440.9 562.7 1440 561.5M1454.7 604.1C1452.7 604.1 1446.8 604.2 1442.9 604.1C1439 604 1433.1 603.5 1431.1 603.4M1506.1 633.5C1505.4 631 1503.7 622.5 1501.7 618.8C1499.7 615.1 1495.6 612.7 1494.3 611.4M1407.6 604.1C1406.1 604.1 1402 604.3 1398.8 604.1C1395.6 603.9 1390.2 602.9 1388.5 602.6M1431.1 620.3C1429.7 620.3 1425.3 620.8 1422.3 620.3C1419.4 619.8 1415 617.8 1413.5 617.3M1413.5 636.4C1411.5 636.9 1405.4 639.1 1401.7 639.4C1398.1 639.6 1393.2 638.2 1391.4 637.9M1422.3 719.5C1420.4 718.6 1414.5 715.4 1410.6 714.3C1406.6 713.2 1401.5 713.9 1398.8 712.9C1396.1 711.9 1395.1 709.2 1394.4 708.5M1575.2 654.1C1578.9 655.3 1588.7 660.2 1597.2 661.4C1605.8 662.7 1621.7 661.4 1626.6 661.4M1578.1 660C1582.1 661.4 1593.6 667.2 1601.6 668.8C1609.7 670.4 1622.5 669.4 1626.6 669.5M1578.1 665.8C1581.3 667.3 1589.6 672.8 1597.2 674.7C1604.8 676.5 1619.3 676.5 1623.7 676.9M1578.1 671.7C1580.1 673.9 1584.5 680 1589.9 684.9C1595.3 689.8 1607 698.4 1610.5 701.1M1575.2 677.6C1577.2 681.3 1582.5 694.1 1586.9 699.6C1591.4 705.2 1599.2 708.8 1601.6 710.7M1572.3 680.5C1573.7 684.5 1578.1 697.7 1581.1 704.1C1584 710.4 1588.4 716.3 1589.9 718.8M1569.3 683.5C1570 687.4 1572.3 699.9 1573.7 707C1575.2 714.1 1577.4 722.9 1578.1 726.1M1390 596.7C1389 596.5 1385.8 596.1 1384.1 595.3C1382.4 594.4 1380.4 592.2 1379.7 591.6M1588.6 1020.1C1585 1023.2 1570.8 1033.9 1566.7 1038.8C1562.6 1043.7 1564.5 1047.7 1564.1 1049.5M1585.4 1060.1C1583.6 1063.7 1578.1 1076.1 1574.7 1081.5C1571.4 1086.9 1566.9 1090.8 1565.4 1092.7M1634.8 1094.8C1632.3 1095.3 1623.4 1096.8 1620.1 1097.5C1616.8 1098.2 1615.6 1098.6 1614.8 1098.8M1630.8 1121.5C1629 1122.4 1622.8 1125.5 1620.1 1126.8C1617.4 1128.2 1615.6 1129.1 1614.8 1129.5M1636.1 1153.5C1637.4 1153.5 1641.9 1153.8 1644.1 1153.5C1646.3 1153.3 1648.6 1152.4 1649.5 1152.2M1633.4 1140.2C1630.8 1142.9 1621.9 1152.2 1617.4 1156.2C1613 1160.2 1608.5 1162.9 1606.8 1164.2M1637.4 1150.9C1635.4 1153.5 1629.2 1162.4 1625.4 1166.9C1621.7 1171.3 1617 1173.1 1614.8 1177.6C1612.5 1182 1612.5 1190.9 1612.1 1193.6M1638.8 1152.2C1640.1 1155.5 1643.7 1167.1 1646.8 1172.2C1649.9 1177.3 1654.3 1181.2 1657.5 1182.9C1660.6 1184.6 1664.1 1182.4 1665.5 1182.4M1646.8 1172.2C1646.6 1174 1645.2 1180.2 1645.4 1182.9C1645.7 1185.6 1647.7 1187.3 1648.1 1188.2M1686.8 1028.1C1688.6 1026.3 1693.3 1018.2 1697.5 1017.4C1701.7 1016.6 1709.7 1022.3 1712.2 1023.3M1713.5 1081.5C1713.6 1085.9 1714.5 1100.6 1714 1108.2C1713.6 1115.7 1711.4 1123.7 1710.8 1126.8M1726.8 1097.5C1726.5 1101 1724.3 1112.4 1724.7 1118.8C1725.2 1125.3 1728.7 1133.3 1729.5 1136.2M1697.5 1113.5C1695.3 1115.3 1688.2 1121.5 1684.1 1124.2C1680.1 1126.8 1675.3 1128.6 1673.5 1129.5M1740.2 1052.1C1742.9 1053.5 1752.6 1057 1756.2 1060.1C1759.9 1063.2 1761.1 1069 1762.1 1070.8M1734.9 926.7C1735.7 931.1 1738.3 946.6 1740.2 953.4C1742.1 960.1 1745.1 964.9 1746.1 967.3M1750.9 953.4C1752.6 956.9 1758.8 968.9 1761.5 974.7C1764.3 980.6 1766.4 986.3 1767.4 988.6M1855 1052.1C1857.2 1053.5 1864.2 1056.9 1868.3 1060.1C1872.4 1063.3 1877.6 1069.5 1879.5 1071.3M1836.3 1028.1 1839.5 1044.1M1788.2 966.7 1785.6 957.4M1772.2 1145.5C1774 1146 1780 1147.3 1782.9 1148.2C1785.8 1149.1 1788.5 1150.4 1789.6 1150.9M1788.2 1172.2C1790 1174 1795.7 1180.2 1798.9 1182.9C1802.1 1185.6 1806 1187.3 1807.4 1188.2M1812.2 1220.3 1820.8 1218.1M1873.6 934.7C1875.9 937.8 1883.4 947.5 1887 953.4C1890.5 959.2 1893.6 967.2 1895 969.9M1900.3 948C1903 951.2 1912.7 961.4 1916.3 966.7C1920 972.1 1921.2 977.8 1922.2 980.1M1927 966.7 1940.9 977.9M1953.7 982.7 1972.4 977.9M1980.4 1001.4 1996.9 996.6M1860.3 958.7C1861.2 962.3 1864.2 975.2 1865.6 980.1C1867 985 1868.3 986.7 1868.8 988.1M1895 969.9C1895.9 973.4 1899 985.5 1900.3 990.7C1901.7 996 1902.5 999.6 1903 1001.4M1900.3 913.3C1902.1 914.2 1908.3 917.3 1911 918.7C1913.7 920 1915.4 920.9 1916.3 921.4M1550.5 1270C1548.8 1271.7 1543.2 1277.5 1540 1280C1536.8 1282.5 1532.7 1284.2 1531.2 1285M1555 1250C1555.9 1251.7 1558.6 1257.4 1560.5 1260C1562.4 1262.6 1565.3 1264.6 1566.2 1265.5M1552.5 1275C1551.7 1277.5 1548.5 1286.2 1547.5 1290C1546.5 1293.8 1546.5 1296.2 1546.2 1297.5M1550 1210C1549.6 1212.5 1548.2 1221.2 1547.5 1225C1546.8 1228.8 1546.2 1231.7 1546 1233M1790 1175C1792.1 1176.2 1799.2 1180.3 1802.5 1182.5C1805.8 1184.7 1808.3 1187.1 1809.5 1188M1802.5 1200C1804.6 1202.1 1811.6 1209.1 1815 1212.5C1818.4 1215.9 1821.7 1219.2 1823 1220.5M1820 1245C1821.7 1245 1827.5 1244.8 1830 1245C1832.5 1245.2 1834.2 1246 1835 1246.2M1515 970C1510.8 969.6 1497.5 968.8 1490 967.5C1482.5 966.2 1473.3 963.3 1470 962.5M1502.5 980C1499.6 981.2 1491.2 985.3 1485 987.5C1478.8 989.7 1468.3 992.1 1465 993M1490 990C1491.7 991.7 1497.5 996.2 1500 1000C1502.5 1003.8 1504.2 1010.8 1505 1013M1425 1070C1423.3 1070.8 1417.5 1073.3 1415 1075C1412.5 1076.7 1410.8 1079.2 1410 1080M1465 917.5C1467.1 918.8 1474.6 923.4 1477.5 925C1480.4 926.6 1481.7 926.7 1482.5 927M1440 927.5 1443 931.2M1415 937.5C1412.5 937.1 1405 936.7 1400 935C1395 933.3 1387.5 928.8 1385 927.5M1340 925C1335.8 925.8 1324.1 927.9 1315 930C1305.9 932.1 1290.4 936.2 1285.5 937.5M1315 937.5C1312.9 938.8 1308.2 943.3 1302.5 945C1296.8 946.7 1284.2 947.1 1280.5 947.5M1540 1030C1538.3 1033.3 1533.3 1043.3 1530 1050C1526.7 1056.7 1522.4 1065.8 1520 1070C1517.6 1074.2 1516.2 1074.6 1515.5 1075.5M1551.5 1125C1549.2 1125.8 1541 1129.1 1537.5 1130C1534 1130.9 1531.7 1130.4 1530.5 1130.5M1551.5 1145C1549.6 1145.8 1543 1149 1540 1150C1537 1151 1534.8 1151 1533.8 1151.2M1526.1 303.8C1526.1 300.1 1525.8 287.3 1526.1 281.3C1526.5 275.3 1528 270.1 1528.4 267.8M1535.1 292.6C1537.4 291.1 1544.9 285.4 1548.6 283.6C1552.4 281.7 1556.1 281.7 1557.6 281.3M1400.1 216C1398.6 211.9 1394.1 199.9 1391.1 191.3C1388.1 182.7 1384.5 169.1 1382.1 164.3C1379.6 159.5 1377.4 162.8 1376.5 162.5M1332.6 306.1C1330.7 305.7 1324.5 304.1 1321.3 303.8C1318.1 303.5 1314.7 304.2 1313.4 304.3M1310.1 279.1C1307.8 278.7 1300.2 277 1296.6 276.8C1292.9 276.7 1289.4 277.9 1288 278.2M1287.6 252.1C1283.8 251.3 1270.9 248.7 1265 247.6C1259.2 246.4 1254.7 245.7 1252.7 245.3M1252.7 196.2C1249.5 192.8 1239 182 1233.5 175.5C1228.1 169.1 1222.6 161.6 1220 157.5C1217.5 153.5 1218.5 152.3 1218.2 151.2M1252.7 196.2C1251 193.5 1247.2 188.4 1242.5 180C1237.8 171.7 1230.9 155.3 1224.5 146.3C1218.2 137.3 1209.5 131.6 1204.3 126C1199.1 120.4 1195.3 114.8 1193.5 112.5M1226.8 164.3C1223 161.3 1211.4 151.5 1204.3 146.3C1197.1 141 1187.4 135 1184 132.8M1197.5 184.5C1193.8 181.9 1179.8 171.7 1175 168.8C1170.2 165.8 1169.8 167.3 1168.7 167M1168.7 167C1166 163.9 1157 152.6 1152.5 148.5C1148 144.4 1143.5 143.3 1141.7 142.2M1242.5 270.1C1238.8 268.6 1227.5 264.8 1220 261.1C1212.5 257.3 1202 251.3 1197.5 247.6C1193 243.8 1193.8 240 1193 238.5M1265 292.6C1261.3 291.8 1250 289.2 1242.5 288.1C1235 286.9 1226.4 286.4 1220 285.8C1213.7 285.3 1206.9 284.9 1204.3 284.7M1227.2 263.8C1222.3 263.3 1206.2 262.3 1197.5 261.1C1188.8 259.9 1182.5 257.1 1175 256.6C1167.5 256 1156.3 257.5 1152.5 257.7M1193 238.5C1190 234.8 1181 222 1175 216C1169 210 1161.1 205.5 1157 202.5C1152.9 199.5 1151.4 198.8 1150.3 198M1758.6 219.4C1760.5 218.4 1766.3 214.2 1770.3 213.5C1774.4 212.9 1781 215.2 1783.1 215.5M1742.9 239C1744.8 238.4 1751 235.1 1754.6 235.1C1758.2 235.1 1762.8 238.4 1764.5 239M1719.3 284.2C1720.3 282.2 1723.7 277 1725.2 272.4C1726.7 267.8 1727.7 259.3 1728.2 256.7M1770.3 346.9C1773 345 1780.8 339.1 1786 335.2C1791.3 331.2 1799.1 325.4 1801.7 323.4M1321.1 371.1C1318.6 369.7 1311.3 364.3 1306.4 362.3C1301.5 360.4 1295.4 361.3 1291.7 359.4C1288 357.4 1285.6 352 1284.3 350.6M1371.1 353.5C1369.1 351.5 1363.7 344.2 1359.3 341.7C1354.9 339.3 1347.1 339.3 1344.6 338.8M1335.8 449C1337.8 450.3 1343.6 454.4 1347.6 456.4C1351.5 458.4 1357.4 460.1 1359.3 460.8M1406.3 427C1408.3 428 1414.2 430.9 1418.1 432.9C1422.1 434.8 1428 437.8 1430 438.8M1401.9 438.8C1404.4 439.7 1412 442.9 1416.6 444.6C1421.3 446.3 1427.8 448.3 1430 449M1232.9 366C1230.4 367.3 1223.1 371.3 1218.2 374.1C1213.3 376.9 1207.2 380.4 1203.5 382.9C1199.8 385.3 1197.4 387.8 1196.1 388.8M1254.9 369.7C1252.5 370.6 1245.1 374.3 1240.2 375.5C1235.3 376.8 1230.2 375.8 1225.5 377C1220.9 378.2 1214.5 381.9 1212.3 382.9M1517.4 457.3C1514.7 456.2 1506.4 452.6 1500.9 450.9C1495.4 449.2 1488.2 448.6 1484.4 447.1C1480.5 445.6 1479 442.8 1478 442M1422 444.5C1420.3 444.5 1414.8 444.8 1411.8 444.5C1408.8 444.3 1405.5 443.5 1404.2 443.3M1341.8 459.8C1340.5 458.8 1336.3 454.9 1334.2 453.4C1332.1 452 1329.9 451.3 1329.1 450.9M1354.5 468.7C1352.4 468.8 1345.2 468.9 1341.8 469.4C1338.4 469.8 1335.5 470.9 1334.2 471.3M1364.7 503.3C1363.7 502.9 1360.1 501.6 1358.4 500.5C1356.7 499.4 1355.2 497.4 1354.5 496.7M1513.6 555.9C1512.1 556 1507 556.5 1504.7 556.5C1502.4 556.5 1500.5 556 1499.6 555.9M1550.5 533.6C1550.3 530.4 1548.8 519.8 1549.3 514.5C1549.7 509.2 1551.8 504.8 1553.1 501.8C1554.3 498.8 1556.3 497.6 1556.9 496.7M1553.1 533.6C1553.9 531.5 1556 524.9 1558.2 520.9C1560.3 516.9 1563.9 512.6 1565.8 509.4C1567.7 506.3 1569 503.1 1569.6 501.8M1545.4 504.4C1545.6 501.8 1546.9 494.2 1546.7 489.1C1546.5 484 1545 477.6 1544.2 473.8C1543.3 470 1542 467.4 1541.6 466.2M1573.4 448.4C1573.9 450.9 1575.4 459 1576 463.6C1576.5 468.3 1576.5 474.2 1576.6 476.4M1586.2 444.5C1585.7 441.4 1584.5 431.8 1583.6 425.5C1582.8 419.1 1581.7 410.6 1581.1 406.4C1580.4 402.1 1580 401.1 1579.8 400M1574.7 568C1574.7 564.4 1575.1 552.5 1574.7 546.3C1574.3 540.2 1572.6 533.6 1572.2 531.1" stroke-width="1.8"/>
<path d="M1850 520C1856.2 520.4 1875 521.7 1887.5 522.5C1900 523.3 1915 522.9 1925 525C1935 527.1 1943.8 533.3 1947.5 535M1725 582.5C1733.3 581.2 1758.3 575.8 1775 575C1791.7 574.2 1810.4 577.5 1825 577.5C1839.6 577.5 1854.2 576.2 1862.5 575C1870.8 573.8 1872.9 571.2 1875 570.5M1775 581.2C1783.3 582.7 1808.3 588.1 1825 590C1841.7 591.9 1860.8 592.5 1875 592.5C1889.2 592.5 1904.2 590.4 1910 590M1750 707.5C1754.2 706.2 1764.6 702.1 1775 700C1785.4 697.9 1802.3 695 1812.5 695C1822.7 695 1832.3 699.2 1836.2 700M1712.5 682.5C1718.8 684.6 1735.4 692.5 1750 695C1764.6 697.5 1785.8 697.5 1800 697.5C1814.2 697.5 1829.2 695.4 1835 695M1750 785C1754.2 787.1 1766.7 795 1775 797.5C1783.3 800 1793.8 798.7 1800 800C1806.2 801.3 1810.4 804.6 1812.5 805.5M1762.5 872.5C1768.8 872.9 1786.2 875 1800 875C1813.8 875 1837.5 872.9 1845 872.5M1800 885C1808.3 885.4 1836.6 887.1 1850 887.5C1863.4 887.9 1875.4 887.5 1880.5 887.5M1900 892.5C1908.3 893.3 1937.5 896.2 1950 897.5C1962.5 898.8 1970.8 899.6 1975 900M1325 660C1320.8 659.6 1308.3 659.2 1300 657.5C1291.7 655.8 1282.1 652 1275 650C1267.9 648 1260.4 646.2 1257.5 645.5M1300 645C1297.9 641.7 1290.8 631.2 1287.5 625C1284.2 618.8 1282.1 611.7 1280 607.5C1277.9 603.3 1275.8 601.2 1275 600M1225 820C1220.8 820.8 1208.3 822.9 1200 825C1191.7 827.1 1183.3 830.4 1175 832.5C1166.7 834.6 1157.5 836.2 1150 837.5C1142.5 838.8 1133.3 839.6 1130 840M1200 842.5C1195.8 843.8 1185.4 847.5 1175 850C1164.6 852.5 1149.2 855.6 1137.5 857.5C1125.8 859.4 1110.4 860.6 1105 861.2M1237.5 737.5C1233.3 739.6 1219.6 745.8 1212.5 750C1205.4 754.2 1199.4 758.1 1195 762.5C1190.6 766.9 1187.7 774 1186.2 776.2M1217.5 747.5C1214.6 749.6 1207.1 756.2 1200 760C1192.9 763.8 1181.5 766.7 1175 770C1168.5 773.3 1163.5 778.3 1161.2 780M1200 745C1195.8 745.4 1183.3 747.1 1175 747.5C1166.7 747.9 1155.8 747.5 1150 747.5C1144.2 747.5 1142.1 747.5 1140.5 747.5M1162.5 752.5C1158.3 754.6 1144.1 761.2 1137.5 765C1130.9 768.8 1125.4 773.3 1123 775M1275 697.5C1270.8 695 1256.2 686.7 1250 682.5C1243.8 678.3 1241.7 675.3 1237.5 672.5C1233.3 669.7 1227.1 666.7 1225 665.5M1325 347.5C1320.8 346.5 1306.2 344.6 1300 341.2C1293.8 337.9 1290.4 331.9 1287.5 327.5C1284.6 323.1 1283.3 317.1 1282.5 315M1165 560C1170.8 560.8 1190 563.3 1200 565C1210 566.7 1216.7 567.5 1225 570C1233.3 572.5 1245.8 578.3 1250 580M1476.7 662.9C1474.3 661.4 1466.7 657.5 1462 654.1C1457.4 650.6 1451.7 645.4 1448.8 642.3C1445.8 639.3 1445.1 636.8 1444.4 635.7M1457.6 683.5C1455.1 682.5 1446.8 679.3 1442.9 677.6C1439 675.9 1435.5 673.9 1434.1 673.2M1419.4 662.9C1417.2 661.9 1410.8 658.5 1406.1 657C1401.5 655.5 1393.9 654.6 1391.4 654.1M1448.8 736.4C1445.3 735.9 1434.1 733.2 1428.2 733.5C1422.3 733.7 1415.9 737.1 1413.5 737.9M1577.4 1134.9C1573.4 1138 1558.9 1148.2 1553.4 1153.5C1547.8 1158.9 1545.6 1164.7 1544 1166.9M1572.1 1156.2C1569.8 1158.4 1561.6 1166 1558.7 1169.5C1555.8 1173.1 1555.4 1176.2 1554.7 1177.6M1625.4 1044.1C1624.1 1046.8 1620 1055.7 1617.4 1060.1C1614.8 1064.6 1611.2 1069 1610 1070.8M1708.2 1065.5C1707.3 1069 1704.6 1078.8 1702.8 1086.8C1701 1094.8 1698.8 1105.9 1697.5 1113.5C1696.2 1121.2 1695.3 1129.5 1694.8 1132.7M1660.1 908C1661.9 911.1 1665.5 919.6 1670.8 926.7C1676.1 933.8 1685.9 943.1 1692.2 950.7C1698.4 958.3 1705.5 968.5 1708.2 972.1M1820.3 1006.8C1823.8 1008.1 1835.2 1012.9 1841.6 1014.8C1848.1 1016.6 1856.1 1017.4 1859 1018M1833.6 926.7C1835.8 930.2 1842.5 942.7 1846.9 948C1851.4 953.4 1855.8 956.2 1860.3 958.7C1864.7 961.2 1871.4 962.3 1873.6 963M1565 1180C1563.8 1182.5 1560 1190 1557.5 1195C1555 1200 1552.9 1205.4 1550 1210C1547.1 1214.6 1542.8 1219.8 1540 1222.5C1537.2 1225.2 1534.2 1225.6 1533 1226.2M1470 1007.5C1466.7 1008.3 1457 1010.3 1450 1012.5C1443 1014.7 1431.7 1019.2 1428 1020.5M1450 1030C1446.7 1030.8 1437.9 1032.5 1430 1035C1422.1 1037.5 1407.5 1043.3 1402.5 1045C1397.5 1046.7 1400.4 1045 1400 1045M1435 1050C1430.8 1051.7 1417.5 1056.7 1410 1060C1402.5 1063.3 1395.8 1067.1 1390 1070C1384.2 1072.9 1377.9 1076.2 1375.5 1077.5M1450 1040C1448.3 1043.3 1442.1 1053.3 1440 1060C1437.9 1066.7 1438.2 1074.1 1437.5 1080C1436.8 1085.9 1435.8 1092.9 1435.5 1095.5M1551.5 1020C1548.8 1023.3 1541.1 1033.3 1535 1040C1528.9 1046.7 1519.9 1055 1515 1060C1510.1 1065 1507.1 1068.3 1505.5 1070M1456.4 270.1C1456 264.4 1454.1 247.6 1454.1 236.3C1454.1 225 1455.2 211.9 1456.4 202.5C1457.5 193.2 1460.1 183.8 1460.9 180M1523.9 337.6C1522.8 332 1519 313.2 1517.1 303.8C1515.3 294.4 1515.3 287.7 1512.6 281.3C1510 274.9 1503.2 268.2 1501.4 265.6M1350.6 252.1C1349.8 247.6 1347.6 234 1346.1 225C1344.6 216 1343.8 205.9 1341.6 198C1339.3 190.2 1334.1 181.2 1332.6 177.8M1395.6 315.1C1392.6 314.3 1382.8 312.4 1377.6 310.6C1372.3 308.7 1367.6 305.3 1364.1 303.8C1360.5 302.3 1357.5 301.9 1356.2 301.6M1422.6 355.6C1420.7 350.7 1415.1 334.6 1411.3 326.3C1407.6 318.1 1402.3 311.5 1400.1 306.1C1397.9 300.6 1398.6 295.8 1398.3 293.7M1332.6 360.1C1328.8 359.3 1317.6 358.6 1310.1 355.6C1302.6 352.6 1292 345.8 1287.6 342.1C1283.1 338.4 1284.2 335 1283.5 333.5M1707.6 315.6C1709.9 314.2 1716.7 311.6 1721.3 307.7C1725.9 303.8 1732.7 294.6 1735 292M1497.7 346.9C1496.7 342 1494.1 327.3 1491.8 317.5C1489.5 307.7 1485.4 296.3 1483.9 288.1C1482.5 279.9 1483.1 271.7 1482.9 268.5M1503.5 317.5C1505.5 314.6 1511.7 306.4 1515.3 299.9C1518.9 293.3 1521.2 282.9 1525.1 278.3C1529 273.7 1534.9 273 1538.9 272.4C1542.8 271.7 1547 274 1548.7 274.4M1321.1 356.4C1316.2 355.2 1301.5 351 1291.7 349.1C1281.9 347.1 1272.1 346.4 1262.3 344.7C1252.5 343 1242.7 340.5 1232.9 338.8C1223.1 337.1 1212.1 335.6 1203.5 334.4C1194.9 333.2 1187.6 332.2 1181.4 331.4C1175.3 330.7 1169.2 330.2 1166.7 330M1299 344.7C1295.4 343.2 1285.6 338.1 1277 335.9C1268.4 333.7 1257.4 332.4 1247.6 331.4C1237.8 330.5 1226.8 330.5 1218.2 330C1209.6 329.5 1199.8 328.8 1196.1 328.5M1277 374.1C1273.3 372.1 1262.3 365.3 1254.9 362.3C1247.6 359.4 1240.2 358.2 1232.9 356.4C1225.5 354.7 1218.2 353.3 1210.8 352C1203.5 350.8 1192.5 349.6 1188.8 349.1M1409.3 349.1C1406.8 347.9 1399.5 345.2 1394.6 341.7C1389.7 338.3 1384.3 332.4 1379.9 328.5C1375.5 324.6 1370.1 319.9 1368.1 318.2M1329.9 454.9C1333.3 455.9 1343.4 458.4 1350.5 460.8C1357.6 463.3 1366.4 467.4 1372.5 469.6C1378.7 471.8 1384.8 473.3 1387.2 474" stroke-width="1.9"/>
<path d="M1617.5 540C1618.8 533.3 1622.1 512.9 1625 500C1627.9 487.1 1631.9 475 1635 462.5C1638.1 450 1641.2 437.5 1643.8 425C1646.2 412.5 1648.5 396.7 1650 387.5C1651.5 378.3 1652.5 372.9 1653 370M1700 643.8C1704.2 643.5 1714.6 642.9 1725 642.5C1735.4 642.1 1750 640.8 1762.5 641.2C1775 641.7 1790.6 643.5 1800 645C1809.4 646.5 1815.6 649.2 1818.8 650M1687.5 660C1693.8 663.3 1710.4 675 1725 680C1739.6 685 1758.3 687.8 1775 690C1791.7 692.2 1812.5 693.4 1825 693C1837.5 692.6 1845.8 688.4 1850 687.5M1650 830C1658.3 830.8 1685.4 833.8 1700 835C1714.6 836.2 1725 837.9 1737.5 837.5C1750 837.1 1764.6 834.6 1775 832.5C1785.4 830.4 1795.8 826.2 1800 825M1850 897.5C1858.3 896.7 1887.5 894.6 1900 892.5C1912.5 890.4 1912.5 886.7 1925 885C1937.5 883.3 1966.7 882.9 1975 882.5M1670 840C1672.5 844.2 1680.4 855.8 1685 865C1689.6 874.2 1692.9 883.8 1697.5 895C1702.1 906.2 1710 926.2 1712.5 932.5M1265 780C1260.4 782.1 1246.2 789.2 1237.5 792.5C1228.8 795.8 1220.8 797.5 1212.5 800C1204.2 802.5 1195.2 804.6 1187.5 807.5C1179.8 810.4 1169.8 815.8 1166.2 817.5M1511.5 810C1507.5 810.4 1497.8 810.8 1487.5 812.5C1477.2 814.2 1459.6 817.5 1450 820C1440.4 822.5 1433.3 826.2 1430 827.5M1580.1 1113.5C1575.6 1114.8 1561.8 1118.8 1553.4 1121.5C1544.9 1124.2 1533.4 1128.2 1529.4 1129.5M1775 1150C1777.5 1154.2 1785.4 1166.7 1790 1175C1794.6 1183.3 1798.8 1191.7 1802.5 1200C1806.2 1208.3 1809.6 1217.5 1812.5 1225C1815.4 1232.5 1818.5 1240 1820 1245C1821.5 1250 1821 1253.3 1821.2 1255M1499.1 292.6C1500.6 285.1 1506.2 261.8 1508.1 247.6C1510 233.3 1510 213.8 1510.4 207M1429.3 270.1C1428.2 266.3 1427.5 256.6 1422.6 247.6C1417.7 238.5 1406.5 224.7 1400.1 216C1393.7 207.4 1387.9 200.1 1384.3 195.8C1380.8 191.5 1379.6 191.1 1378.7 190.2M1420.3 236.3C1418.8 231.4 1414.7 216.4 1411.3 207C1408 197.7 1402.7 187.2 1400.1 180C1397.5 172.9 1396.3 166.9 1395.6 164.3M1373.1 283.6C1370.1 281.3 1361.8 275.3 1355.1 270.1C1348.3 264.8 1340.1 257.3 1332.6 252.1C1325.1 246.8 1317.6 243 1310.1 238.5C1302.6 234 1295.1 230.3 1287.6 225C1280 219.8 1270.9 211.8 1265 207C1259.2 202.2 1254.7 198 1252.7 196.2M1499.6 415.6C1498.3 410.7 1494.4 396 1491.8 386.2C1489.2 376.4 1485.9 366.6 1483.9 356.7C1482 346.9 1480.7 332.2 1480 327.3M1519.2 435.2C1519.7 428.7 1521.5 409.1 1522.2 396C1522.8 382.9 1522 368.2 1523.2 356.7C1524.3 345.3 1526.4 333.9 1529 327.3C1531.7 320.8 1537.2 319.1 1538.9 317.5M1430 362.3C1426.6 360.1 1415.2 354.2 1409.3 349.1C1403.4 343.9 1398.3 336.8 1394.6 331.4C1390.9 326.1 1389.7 320.4 1387.2 316.7C1384.8 313.1 1381.1 310.6 1379.9 309.4M1430 324.1C1427.8 321.6 1420.1 314.3 1416.6 309.4C1413.2 304.5 1411 299.6 1409.3 294.7C1407.6 289.8 1406.8 282.4 1406.3 280" stroke-width="2.1"/>
<path d="M1850 518C1856.2 516.8 1875 513 1887.5 510.5C1900 508 1912.5 504.8 1925 503C1937.5 501.2 1952.1 500.2 1962.5 500C1972.9 499.8 1983.3 501.2 1987.5 501.5M1640 825C1641.5 828.3 1646.9 837.5 1648.8 845C1650.6 852.5 1650.1 862.1 1651.2 870C1652.4 877.9 1654 885 1655.5 892.5C1657 900 1659.2 911.2 1660 915M1695 852.5C1697.1 856.2 1704.2 867.9 1707.5 875C1710.8 882.1 1712.1 888.3 1715 895C1717.9 901.7 1721.2 908.8 1725 915C1728.8 921.2 1735.4 929.6 1737.5 932.5M1737.5 865C1740.4 868.8 1747.9 879.6 1755 887.5C1762.1 895.4 1772.5 905 1780 912.5C1787.5 920 1796.7 929.2 1800 932.5M1580 785C1575 787.5 1559.2 796.2 1550 800C1540.8 803.8 1531.4 805.8 1525 807.5C1518.6 809.2 1513.8 809.6 1511.5 810M1511.5 760C1505.4 760.8 1487.3 762.9 1475 765C1462.7 767.1 1447.7 770.8 1437.5 772.5C1427.3 774.2 1417.7 774.6 1413.8 775M1511.5 785C1505.4 785.8 1487.3 787.5 1475 790C1462.7 792.5 1450 799.2 1437.5 800C1425 800.8 1411.7 795 1400 795C1388.3 795 1372.9 799.2 1367.5 800M1375 380C1370.8 379.6 1358.3 378.3 1350 377.5C1341.7 376.7 1333.3 375.8 1325 375C1316.7 374.2 1308.3 373.3 1300 372.5C1291.7 371.7 1283.3 370.4 1275 370C1266.7 369.6 1258.3 369.6 1250 370C1241.7 370.4 1233.3 371.6 1225 372.5C1216.7 373.4 1204.2 375 1200 375.5M1350 362.5C1345.8 361.7 1333.3 359.6 1325 357.5C1316.7 355.4 1308.3 351.7 1300 350C1291.7 348.3 1283.3 347.9 1275 347.5C1266.7 347.1 1258.3 347.1 1250 347.5C1241.7 347.9 1233.3 349 1225 350C1216.7 351 1206.6 352.5 1200 353.8C1193.4 355 1187.9 356.9 1185.5 357.5M1503.2 682.3C1499.2 681.5 1487.2 679.4 1479.6 677.6C1472 675.8 1463.2 673.4 1457.6 671.7C1452 670 1447.8 668 1445.8 667.3M1633.4 926.7C1632.6 933.4 1630.6 953.4 1628.6 966.7C1626.6 980.1 1623.2 996.5 1621.4 1006.8C1619.7 1017 1618.5 1024.5 1618 1028.1M1670.8 1001.4C1676.1 1006.8 1691.3 1025 1702.8 1033.4C1714.4 1041.9 1729.5 1046.8 1740.2 1052.1C1750.9 1057.5 1758.7 1061.4 1766.9 1065.5C1775.1 1069.6 1785.8 1074.8 1789.6 1076.7M1756.2 1121.5C1758.9 1125.5 1766.9 1137.1 1772.2 1145.5C1777.6 1154 1783.3 1163.3 1788.2 1172.2C1793.1 1181.1 1797.6 1190.9 1801.6 1198.9C1805.6 1206.9 1808.7 1212.7 1812.2 1220.3C1815.8 1227.8 1820.2 1238.7 1822.9 1244.3C1825.7 1249.8 1827.8 1252.1 1828.8 1253.6M1793.6 916C1802.5 915.1 1829.2 911.1 1846.9 910.7C1864.7 910.2 1882.5 913.3 1900.3 913.3C1918.1 913.3 1940.4 911.6 1953.7 910.7C1967 909.8 1975.9 908.5 1980.4 908M1400.1 387.1C1396.3 382.6 1385.1 369.1 1377.6 360.1C1370.1 351.1 1362.6 342.1 1355.1 333.1C1347.6 324.1 1340.1 315.1 1332.6 306.1C1325.1 297.1 1317.6 288.1 1310.1 279.1C1302.6 270.1 1294.3 259.6 1287.6 252.1C1280.8 244.6 1274.8 238.5 1269.5 234C1264.3 229.5 1260.5 226.8 1256 225C1251.5 223.2 1244.8 223.5 1242.5 223.2M1355.1 387.1C1351.3 382.6 1340.1 368.3 1332.6 360.1C1325.1 351.8 1317.6 345.1 1310.1 337.6C1302.6 330.1 1295.1 322.6 1287.6 315.1C1280 307.6 1272.5 300.1 1265 292.6C1257.5 285.1 1248.8 274.9 1242.5 270.1C1236.2 265.3 1229.8 264.8 1227.2 263.8M1343.1 368.2C1339.5 368.7 1328.4 370.2 1321.1 371.1C1313.7 372.1 1306.4 373.6 1299 374.1C1291.7 374.6 1284.3 374.8 1277 374.1C1269.6 373.3 1262.3 371 1254.9 369.7C1247.6 368.3 1240.2 366.5 1232.9 366C1225.5 365.5 1217.5 365.9 1210.8 366.7C1204.2 367.6 1196.1 370.4 1193.2 371.1M1365.2 381.4C1361.5 381.7 1350.5 382.9 1343.1 382.9C1335.8 382.9 1328.4 381.4 1321.1 381.4C1313.7 381.4 1306.4 382.2 1299 382.9C1291.7 383.6 1283.1 384.9 1277 385.8C1270.9 386.8 1266 387.6 1262.3 388.8C1258.6 390 1256.2 392.5 1254.9 393.2M1474.2 462.4C1472.9 461.1 1470.4 457.9 1466.5 454.7C1462.7 451.5 1456.8 447.1 1451.3 443.3C1445.8 439.5 1438.3 434.6 1433.4 431.8C1428.6 429.1 1425.2 427.9 1422 426.7C1418.8 425.6 1415.6 425.1 1414.4 424.8M1437.3 501.8C1434.1 501.8 1424.5 501.7 1418.2 501.8C1411.8 501.9 1405.5 502.1 1399.1 502.4C1392.7 502.8 1385.7 503.6 1380 503.7C1374.3 503.9 1369.4 503 1364.7 503.3C1360.1 503.7 1354.1 505.2 1352 505.6M1551.8 565.4C1548.6 564.4 1539.1 560.8 1532.7 559.1C1526.3 557.4 1519.1 557 1513.6 555.3C1508.1 553.6 1502 550 1499.6 548.9" stroke-width="2.4"/>
<path d="M1575 611.8C1583.3 611.5 1608.3 610.6 1625 610C1641.7 609.4 1658.3 607.5 1675 608C1691.7 608.5 1708.3 610.6 1725 613C1741.7 615.4 1760.4 619.5 1775 622.5C1789.6 625.5 1806.2 629.8 1812.5 631.2M1812.5 631.2C1814.6 631.7 1821.5 632.7 1825 633.8C1828.5 634.8 1832.3 636.9 1833.8 637.5M1593 821.2C1597.1 821.9 1611.8 822.3 1617.5 825C1623.2 827.7 1625.3 831.2 1627.5 837.5C1629.7 843.8 1629.5 855 1630.5 862.5C1631.5 870 1633.2 879.2 1633.8 882.5M1212.5 520C1214.6 523.3 1220.4 533.3 1225 540C1229.6 546.7 1234.2 553.3 1240 560C1245.8 566.7 1253.3 573.3 1260 580C1266.7 586.7 1273.3 593.3 1280 600C1286.7 606.7 1295 614.6 1300 620C1305 625.4 1308.3 630.4 1310 632.5M1425.3 560C1422.8 558.5 1414.7 553.4 1410.6 551.2C1406.4 549 1403 547.8 1400.3 546.8C1397.6 545.8 1395.4 545.5 1394.4 545.3M1593.4 961.4C1589 966.7 1575.6 982.3 1566.7 993.4C1557.8 1004.5 1548.5 1017 1540 1028.1C1531.6 1039.2 1521.7 1051.2 1516 1060.1C1510.3 1069 1507.6 1077.9 1505.9 1081.5M1576.2 1150C1575.3 1154.2 1572.7 1166.7 1570.5 1175C1568.3 1183.3 1565.2 1191.7 1563 1200C1560.8 1208.3 1558.8 1216.7 1557.5 1225C1556.2 1233.3 1556.2 1242.5 1555 1250C1553.8 1257.5 1550.1 1265 1550.5 1270C1550.9 1275 1556.3 1278.3 1557.5 1280M1463.1 315.1C1462 307.6 1459.4 283.2 1456.4 270.1C1453.4 256.9 1448.5 247.6 1445.1 236.3C1441.7 225 1438.4 211.9 1436.1 202.5C1433.8 193.2 1432.5 187.5 1431.6 180C1430.7 172.5 1430.7 161.3 1430.5 157.5M1526.1 387.1C1525.8 378.8 1523.9 351.5 1523.9 337.6C1523.9 323.7 1524.3 313.9 1526.1 303.8C1528 293.7 1532.1 282.8 1535.1 276.8C1538.1 270.8 1542.6 269.3 1544.1 267.8M1782.1 334.2 1793.9 321.4" stroke-width="2.6"/>
<path d="M1572 590C1572.9 585.4 1575.8 571.2 1577.5 562.5C1579.2 553.8 1581.2 547.9 1582.5 537.5C1583.8 527.1 1584.4 512.5 1585 500C1585.6 487.5 1585.8 475 1586.2 462.5C1586.7 450 1587.1 437.5 1587.5 425C1587.9 412.5 1588.2 398.3 1588.8 387.5C1589.2 376.7 1590.2 364.6 1590.5 360M1573.8 593.8C1576.5 588.5 1585.6 574 1590 562.5C1594.4 551 1597.1 537.5 1600 525C1602.9 512.5 1605 500 1607.5 487.5C1610 475 1612.9 462.5 1615 450C1617.1 437.5 1618.5 425 1620 412.5C1621.5 400 1622.7 387.5 1623.8 375C1624.8 362.5 1625.6 348.3 1626.2 337.5C1626.9 326.7 1627.3 314.6 1627.5 310M1620 517.5C1625 512.1 1640 496.2 1650 485C1660 473.8 1670 461.2 1680 450C1690 438.8 1700.4 428.3 1710 417.5C1719.6 406.7 1728.8 395.4 1737.5 385C1746.2 374.6 1755.4 363.3 1762.5 355C1769.6 346.7 1775 340.4 1780 335C1785 329.6 1790.4 324.6 1792.5 322.5M1580 595.5C1585 590 1600 573 1610 562.5C1620 552 1629.2 543.3 1640 532.5C1650.8 521.7 1662.9 509.6 1675 497.5C1687.1 485.4 1702.1 471.2 1712.5 460C1722.9 448.8 1728.8 440 1737.5 430C1746.2 420 1756.7 409.2 1765 400C1773.3 390.8 1781.5 382.2 1787.5 375C1793.5 367.8 1799 360 1801.2 357M1582.5 599.2C1589.6 594.4 1611.7 579 1625 570C1638.3 561 1650 552.5 1662.5 545C1675 537.5 1687.1 531.7 1700 525C1712.9 518.3 1727.5 512.1 1740 505C1752.5 497.9 1763.8 489.6 1775 482.5C1786.2 475.4 1797.9 468.3 1807.5 462.5C1817.1 456.7 1824.6 450.8 1832.5 447.5C1840.4 444.2 1851.2 443.8 1855 443M1850 518C1854.2 515.9 1864.6 509.2 1875 505.5C1885.4 501.8 1900 498 1912.5 495.5C1925 493 1937.5 492.2 1950 490.5C1962.5 488.8 1981.2 486.3 1987.5 485.5M1513.8 436.2C1514 432.3 1514 421.5 1515.5 412.5C1517 403.5 1520.9 391.7 1522.5 382.5C1524.1 373.3 1524.8 365 1525 357.5C1525.2 350 1523.5 343.2 1524 337.5C1524.5 331.8 1525.7 326.3 1528 323C1530.3 319.7 1536.3 318.4 1538 317.5M1572.5 670C1579.2 672.1 1599.6 678.3 1612.5 682.5C1625.4 686.7 1637.5 691.2 1650 695C1662.5 698.8 1675.8 701.2 1687.5 705C1699.2 708.8 1711.9 712.5 1720 717.5C1728.1 722.5 1733.5 732.1 1736.2 735M1687.5 847.5C1693.8 847.5 1710.4 848.1 1725 847.5C1739.6 846.9 1758.3 845 1775 843.8C1791.7 842.5 1808.3 841 1825 840C1841.7 839 1858.3 838.1 1875 837.5C1891.7 836.9 1912.5 836.1 1925 836.5C1937.5 836.9 1945.8 839.4 1950 840M1516.4 736.4C1511.5 737.4 1496.8 740.8 1487 742.3C1477.2 743.7 1467.4 744 1457.6 745.2C1447.8 746.4 1437.3 748.4 1428.2 749.6C1419.1 750.8 1407.4 752.1 1403.2 752.6M1649.5 900C1652.1 904.4 1659.2 918.7 1665.5 926.7C1671.7 934.7 1680.6 941.4 1686.8 948C1693 954.7 1698.4 962.2 1702.8 966.7C1707.3 971.3 1711.7 973.8 1713.5 975.3M1512.6 387.1C1511.1 378.8 1505.9 353.3 1503.6 337.6C1501.4 321.8 1500.6 307.6 1499.1 292.6C1497.6 277.6 1496.9 258.8 1494.6 247.6C1492.4 236.3 1487.1 228.8 1485.6 225M1509.4 449C1507.8 443.4 1501.9 427.7 1499.6 415.6C1497.3 403.5 1496 387.8 1495.7 376.4C1495.4 364.9 1496.3 356.7 1497.7 346.9C1499 337.1 1501.6 327.3 1503.5 317.5C1505.5 307.7 1508.3 297.9 1509.4 288.1C1510.6 278.3 1510.6 268.5 1510.4 258.7C1510.2 248.9 1509.3 238.7 1508.4 229.2C1507.6 219.8 1506 206.3 1505.5 201.8M1409.3 402C1406.8 398.8 1399.5 388.5 1394.6 382.9C1389.7 377.3 1383.8 373.1 1379.9 368.2C1376 363.3 1374.5 358.9 1371.1 353.5C1367.6 348.1 1363.2 342 1359.3 335.9C1355.4 329.7 1351.5 323.1 1347.6 316.7C1343.6 310.4 1339 303.8 1335.8 297.6C1332.6 291.5 1329.7 282.9 1328.4 280" stroke-width="2.8"/>
<path d="M1608.1 908C1603.4 913.3 1589.2 930.2 1580.1 940C1570.9 949.8 1562.3 959.2 1553.4 966.7C1544.5 974.3 1535.6 980 1526.7 985.4C1517.8 990.8 1504.4 997 1500 999.3M1724.2 900C1726 904.4 1730.4 917.8 1734.9 926.7C1739.3 935.6 1745.5 944.5 1750.9 953.4C1756.2 962.3 1761.5 971.2 1766.9 980.1C1772.2 989 1778.4 998.7 1782.9 1006.8C1787.3 1014.8 1791.3 1022.7 1793.6 1028.1C1795.9 1033.5 1796.2 1037.4 1796.8 1039.3M1551.5 910C1545.4 909.6 1527.3 906.7 1515 907.5C1502.7 908.3 1490 911.7 1477.5 915C1465 918.3 1450.4 923.8 1440 927.5C1429.6 931.2 1423.3 934.6 1415 937.5C1406.7 940.4 1396.6 943.2 1390 945C1383.4 946.8 1377.9 947.5 1375.5 948M1450 900C1444.2 901.7 1427.1 907.5 1415 910C1402.9 912.5 1390 912.5 1377.5 915C1365 917.5 1350.4 921.2 1340 925C1329.6 928.8 1323.3 933.3 1315 937.5C1306.7 941.7 1295.8 947 1290 950C1284.2 953 1282.1 954.6 1280.5 955.5" stroke-width="2.9"/>
<path d="M1608 873C1602.1 877 1582.2 890.9 1572.8 896.8C1563.3 902.6 1555 906.1 1551.5 908M1525.2 680.8C1521.3 680 1509.3 678.6 1501.7 676.1C1494.1 673.6 1487 669.5 1479.6 665.8C1472.3 662.2 1464.9 658 1457.6 654.1C1450.2 650.2 1442.9 645.7 1435.5 642.3C1428.2 638.9 1420.8 635.7 1413.5 633.5C1406.1 631.3 1395.1 629.8 1391.4 629.1M1645.4 958.7C1648.8 963.6 1658.6 976.5 1665.5 988.1C1672.4 999.6 1679.7 1015.2 1686.8 1028.1C1693.9 1041 1701.5 1053.9 1708.2 1065.5C1714.8 1077 1721.5 1088.6 1726.8 1097.5C1732.2 1106.4 1738 1115.3 1740.2 1118.8M1437.4 300C1436.1 295 1432.2 280.7 1429.3 270.1C1426.5 259.4 1423.3 247.6 1420.3 236.3C1417.3 225 1413.8 213.8 1411.3 202.5C1408.9 191.3 1407 181.9 1405.7 168.8C1404.4 155.6 1404 138.4 1403.5 123.8C1403 109.1 1402.9 88.1 1402.8 81M1445.1 387.1C1441.4 381.8 1430.8 367.6 1422.6 355.6C1414.3 343.6 1403.8 327.1 1395.6 315.1C1387.3 303.1 1380.6 294.1 1373.1 283.6C1365.6 273.1 1357.3 261.8 1350.6 252.1C1343.8 242.3 1337.8 233.3 1332.6 225C1327.3 216.8 1322.8 209.3 1319.1 202.5C1315.3 195.8 1311.6 187.5 1310.1 184.5M1513.6 435.6C1514.5 433.5 1517.4 427.1 1518.7 422.9C1520 418.7 1520.7 414 1521.3 410.2C1521.8 406.4 1521.8 401.7 1521.9 400" stroke-width="3.1"/>
<path d="M1575 598.8C1579.2 594 1592.9 579.8 1600 570C1607.1 560.2 1611.7 550.8 1617.5 540C1623.3 529.2 1629.2 516.7 1635 505C1640.8 493.3 1647.1 481.7 1652.5 470C1657.9 458.3 1662.9 446.7 1667.5 435C1672.1 423.3 1675.8 411.7 1680 400C1684.2 388.3 1688.3 376.7 1692.5 365C1696.7 353.3 1701.2 340.2 1705 330C1708.8 319.8 1713.3 308.1 1715 303.8M1575 608.8C1583.3 607.7 1608.3 605.2 1625 602.5C1641.7 599.8 1658.3 595.8 1675 592.5C1691.7 589.2 1708.3 584.4 1725 582.5C1741.7 580.6 1758.3 580.8 1775 581.2C1791.7 581.7 1811.2 584 1825 585C1838.8 586 1852.1 587.1 1857.5 587.5M1572.5 637.5C1581.2 636.9 1607.9 633.8 1625 633.8C1642.1 633.8 1662.5 635.8 1675 637.5C1687.5 639.2 1687.5 641 1700 643.8C1712.5 646.5 1733.3 650 1750 653.8C1766.7 657.5 1787.5 662.7 1800 666.2C1812.5 669.8 1815.8 672.3 1825 675C1834.2 677.7 1845.8 681.6 1855 682.5C1864.2 683.4 1875.8 680.8 1880 680.5M1570 653.8C1579.2 654.4 1607.5 656 1625 657.5C1642.5 659 1662.5 659.6 1675 662.5C1687.5 665.4 1691.7 669.6 1700 675C1708.3 680.4 1714.6 688.8 1725 695C1735.4 701.2 1750 706.7 1762.5 712.5C1775 718.3 1790.2 723.8 1800 730C1809.8 736.2 1817.7 746.7 1821.2 750M1572.5 755C1579.2 757.1 1599.6 764.2 1612.5 767.5C1625.4 770.8 1635.4 772.9 1650 775C1664.6 777.1 1683.3 778.3 1700 780C1716.7 781.7 1735.4 782.9 1750 785C1764.6 787.1 1777.7 790.8 1787.5 792.5C1797.3 794.2 1805.2 794.6 1808.8 795M1563.8 737.5C1559.4 740.4 1548.1 749.6 1537.5 755C1526.9 760.4 1506.2 767.5 1500 770M1572.5 762.5C1568.8 765.4 1557.9 775.4 1550 780C1542.1 784.6 1533.3 787.1 1525 790C1516.7 792.9 1504.2 796.2 1500 797.5M1597 832C1594.5 833.3 1589.3 837.3 1582 840C1574.7 842.7 1561.2 846 1553 848C1544.8 850 1539.9 851 1533 851.8C1526.1 852.5 1515.1 852.4 1511.5 852.5M1603 850C1601.2 849.7 1600.3 846.6 1592 848C1583.7 849.4 1566 854.4 1553 858.5C1540 862.6 1520.9 870.2 1514 872.5C1507.1 874.8 1511.9 872.5 1511.5 872.5M1375 691.2C1366.7 691.7 1341.7 692.7 1325 693.8C1308.3 694.8 1291.7 696.2 1275 697.5C1258.3 698.8 1239.6 700.4 1225 701.2C1210.4 702.1 1198.3 702.1 1187.5 702.5C1176.7 702.9 1164.6 703.5 1160 703.8M1375 691.2C1370.8 688.5 1358.3 680.2 1350 675C1341.7 669.8 1333.3 665 1325 660C1316.7 655 1308.3 650.4 1300 645C1291.7 639.6 1283.3 632.9 1275 627.5C1266.7 622.1 1258.3 616.7 1250 612.5C1241.7 608.3 1231.2 605 1225 602.5C1218.8 600 1214.6 598.3 1212.5 597.5M1370 693.8C1365.8 696 1354.2 703.1 1345 707.5C1335.8 711.9 1326.7 716.2 1315 720C1303.3 723.8 1287.9 727.1 1275 730C1262.1 732.9 1250 735 1237.5 737.5C1225 740 1212.5 742.5 1200 745C1187.5 747.5 1174.2 750 1162.5 752.5C1150.8 755 1139.6 758.1 1130 760C1120.4 761.9 1109.2 763.1 1105 763.8M1315 720C1312.5 723.3 1305 733.3 1300 740C1295 746.7 1290.8 753.3 1285 760C1279.2 766.7 1271.7 773.3 1265 780C1258.3 786.7 1251.7 793.3 1245 800C1238.3 806.7 1232.5 812.9 1225 820C1217.5 827.1 1207.5 835 1200 842.5C1192.5 850 1186.7 857.5 1180 865C1173.3 872.5 1165.8 880.4 1160 887.5C1154.2 894.6 1147.5 904.2 1145 907.5M1511.5 852.5C1505.4 854.2 1487.3 858.8 1475 862.5C1462.7 866.2 1450 870.8 1437.5 875C1425 879.2 1412.5 883.3 1400 887.5C1387.5 891.7 1373.3 896.2 1362.5 900C1351.7 903.8 1339.6 908.3 1335 910M1511.5 872.5C1505.4 875 1487.3 882.1 1475 887.5C1462.7 892.9 1450 899.2 1437.5 905C1425 910.8 1408.8 918.3 1400 922.5C1391.2 926.7 1387.5 928.8 1385 930M1425 407.5C1420.8 405.4 1408.3 399.6 1400 395C1391.7 390.4 1383.3 385.4 1375 380C1366.7 374.6 1358.3 367.9 1350 362.5C1341.7 357.1 1333.3 352.5 1325 347.5C1316.7 342.5 1308.3 337.5 1300 332.5C1291.7 327.5 1283.3 322.1 1275 317.5C1266.7 312.9 1255.8 307.9 1250 305C1244.2 302.1 1241.7 300.8 1240 300M1559 661.4C1557.3 658.2 1552.4 649.9 1548.7 642.3C1545.1 634.7 1540.9 623.2 1537 615.9C1533.1 608.5 1528.6 602.4 1525.2 598.2C1521.8 594.1 1517.9 592.1 1516.4 590.9M1553.1 676.1C1549.5 673.9 1538.4 668.5 1531.1 662.9C1523.7 657.3 1516.4 649.7 1509 642.3C1501.7 635 1493.6 625.7 1487 618.8C1480.4 611.9 1475.2 607.3 1469.4 601.2C1463.5 595 1457.1 587.4 1451.7 582C1446.3 576.7 1441.4 572.5 1437 568.8C1432.6 565.1 1427.2 561.5 1425.3 560M1547.3 677.6C1543.3 676.1 1531.3 673.2 1523.7 668.8C1516.1 664.4 1509 657.5 1501.7 651.1C1494.3 644.8 1487 637.4 1479.6 630.6C1472.3 623.7 1463.7 615.4 1457.6 610C1451.5 604.6 1446.3 600.8 1442.9 598.2C1439.5 595.6 1438.2 595.2 1437.3 594.5M1539.9 679.4C1536 678.6 1524 677.4 1516.4 674.7C1508.8 671.9 1501.7 667.6 1494.3 662.9C1487 658.2 1479.6 652.1 1472.3 646.7C1464.9 641.3 1457.6 635.9 1450.2 630.6C1442.9 625.2 1435.5 619 1428.2 614.4C1420.8 609.7 1412.5 605.6 1406.1 602.6C1399.8 599.7 1392.7 597.7 1390 596.7M1398.8 686.7C1395.1 685.2 1384.1 680.8 1376.7 677.6C1369.4 674.4 1360.8 670.2 1354.7 667.3C1348.6 664.4 1342.4 661.2 1340 660M1557.6 689.4C1553.1 689.6 1540.4 690.1 1531.1 690.8C1521.8 691.6 1511.5 692.5 1501.7 693.8C1491.9 695 1480.9 697.2 1472.3 698.2C1463.7 699.2 1456.6 699.4 1450.2 699.6C1443.9 699.9 1436.8 699.6 1434.1 699.6M1558.3 693.8C1553.8 694 1540.5 694 1531.1 695.2C1521.7 696.5 1511.5 698.7 1501.7 701.1C1491.9 703.6 1482.1 707.2 1472.3 709.9C1462.5 712.6 1451.5 715.6 1442.9 717.3C1434.3 719 1429.2 720 1420.8 720.2C1412.5 720.5 1397.6 719 1392.9 718.8M1564.2 736.4C1561.1 737.9 1552.5 743 1545.8 745.2C1539.1 747.4 1531.1 748.6 1523.7 749.6C1516.4 750.6 1507.8 750.1 1501.7 751.1C1495.6 752.1 1489.4 754.8 1487 755.5M1613.4 900C1611.5 906.7 1605.2 926.7 1601.9 940C1598.7 953.4 1596.2 966.7 1593.9 980.1C1591.7 993.4 1590 1006.8 1588.6 1020.1C1587.2 1033.4 1586.8 1046.8 1585.4 1060.1C1584 1073.5 1581.8 1086.8 1580.1 1100.2C1578.3 1113.5 1577 1126.8 1574.7 1140.2C1572.5 1153.5 1569.4 1166.9 1566.7 1180.2C1564.1 1193.6 1560.9 1207.8 1558.7 1220.3C1556.5 1232.7 1554.3 1249.2 1553.4 1255M1721.5 900C1726.8 904 1742.4 912.9 1753.5 924C1764.7 935.1 1778 953.8 1788.2 966.7C1798.5 979.6 1806.9 991.2 1814.9 1001.4C1822.9 1011.6 1829.6 1019.7 1836.3 1028.1C1842.9 1036.6 1849.2 1044.1 1855 1052.1C1860.7 1060.1 1866.1 1068.4 1871 1076.1C1875.9 1083.9 1882.1 1095 1884.3 1098.8M1750.9 900C1758 902.7 1779.8 911.6 1793.6 916C1807.4 920.5 1820.3 923.6 1833.6 926.7C1846.9 929.8 1862.5 931.1 1873.6 934.7C1884.8 938.3 1891.4 942.7 1900.3 948C1909.2 953.4 1918.1 960.9 1927 966.7C1935.9 972.5 1944.8 977 1953.7 982.7C1962.6 988.5 1972.2 995.4 1980.4 1001.4C1988.6 1007.4 1999.3 1015.9 2003.1 1018.8M1610 897C1607 900.3 1601.8 909 1592 917C1582.2 925 1564.3 936.2 1551.5 945C1538.7 953.8 1525.2 962.5 1515 970C1504.8 977.5 1497.5 983.8 1490 990C1482.5 996.2 1476.7 1000.8 1470 1007.5C1463.3 1014.2 1455.8 1022.9 1450 1030C1444.2 1037.1 1439.2 1043.3 1435 1050C1430.8 1056.7 1427.9 1063.3 1425 1070C1422.1 1076.7 1419.5 1084.5 1417.5 1090C1415.5 1095.5 1413.8 1100.8 1413 1103M1708.5 312.6C1710.3 307.9 1715.6 293.5 1719.3 284.2C1723.1 274.8 1726.9 264.9 1731.1 256.7C1735.4 248.5 1740.3 241.3 1744.8 235.1C1749.4 228.9 1754 223.7 1758.6 219.4C1763.1 215.2 1770 211.3 1772.3 209.6M1532.7 487.8C1530.6 486.3 1525.3 481.7 1520 478.9C1514.7 476.1 1507.3 473.6 1500.9 471.3C1494.5 468.9 1486.3 466.4 1481.8 464.9C1477.4 463.4 1478.4 463.8 1474.2 462.4C1469.9 460.9 1462.5 458.3 1456.4 456C1450.2 453.7 1443.6 451.1 1437.3 448.4C1430.9 445.6 1423.5 441.8 1418.2 439.5C1412.9 437.1 1407.6 435.2 1405.5 434.4M1558.2 562.9C1555 560.1 1545.4 551.2 1539.1 546.3C1532.7 541.5 1526.3 537.4 1520 533.6C1513.6 529.8 1507.3 526.4 1500.9 523.4C1494.5 520.5 1488.2 518.1 1481.8 515.8C1475.4 513.5 1470.1 511.8 1462.7 509.4C1455.3 507.1 1444.7 504.4 1437.3 501.8C1429.8 499.3 1424.5 496.7 1418.2 494.2C1411.8 491.6 1405.5 488.9 1399.1 486.5C1392.7 484.2 1386.4 482.7 1380 480.2C1373.6 477.6 1367.3 474.7 1360.9 471.3C1354.5 467.9 1346.9 462.4 1341.8 459.8C1336.7 457.3 1332.3 456.6 1330.4 456M1498.4 419.1C1497.7 417 1495.6 409.5 1494.5 406.4C1493.5 403.2 1492.4 401.1 1492 400" stroke-width="3.5"/>
<path d="M1575 603.8C1583.3 601.9 1608.3 597.3 1625 592.5C1641.7 587.7 1658.3 580.4 1675 575C1691.7 569.6 1708.3 565.4 1725 560C1741.7 554.6 1758.3 547.9 1775 542.5C1791.7 537.1 1812.5 531.6 1825 527.5C1837.5 523.4 1845.8 519.6 1850 518M1561.2 718.8C1558.7 720 1552 723.9 1545.8 726.1C1539.5 728.3 1531.1 730.5 1523.7 732C1516.4 733.5 1510.3 734.2 1501.7 734.9C1493.1 735.7 1481.1 736.3 1472.3 736.4C1463.5 736.5 1455.1 736.6 1448.8 735.7C1442.4 734.7 1439.5 731.9 1434.1 730.5C1428.7 729.2 1419.4 728.1 1416.4 727.6" stroke-width="4.0"/>
<path d="M1582.5 790C1587.5 793.3 1601.2 803.3 1612.5 810C1623.8 816.7 1637.5 823.8 1650 830C1662.5 836.2 1675 842.5 1687.5 847.5C1700 852.5 1712.5 855.8 1725 860C1737.5 864.2 1750 868.3 1762.5 872.5C1775 876.7 1785.4 880.8 1800 885C1814.6 889.2 1833.3 893.8 1850 897.5C1866.7 901.2 1883.3 904.6 1900 907.5C1916.7 910.4 1933.3 912.5 1950 915C1966.7 917.5 1991.7 921.2 2000 922.5M1487.5 415C1483.3 414.7 1470.8 413.8 1462.5 413C1454.2 412.2 1443.8 410.9 1437.5 410C1431.2 409.1 1427.1 407.9 1425 407.5M1486.2 415C1485.6 412.5 1484.8 406.7 1482.5 400C1480.2 393.3 1476.2 383.3 1472.5 375C1468.8 366.7 1464.2 358.3 1460 350C1455.8 341.7 1451.2 333.3 1447.5 325C1443.8 316.7 1439.2 304.2 1437.5 300" stroke-width="4.2"/>
<path d="M1398.8 689.6C1395.1 690.6 1384.1 692.6 1376.7 695.2C1369.4 697.9 1360.8 702.6 1354.7 705.5C1348.6 708.5 1342.4 711.6 1340 712.9" stroke-width="4.7"/>
<path d="M1511.5 413.8 1487.5 415M1398.8 689.4C1396.3 689.5 1391.4 689.8 1384.1 690.1C1376.7 690.3 1362 690.6 1354.7 690.8C1347.3 691.1 1342.4 691.4 1340 691.6" stroke-width="5.2"/>
<path d="M1625.4 889.3C1626.8 895.6 1630.1 915.1 1633.4 926.7C1636.8 938.3 1641.7 948 1645.4 958.7C1649.2 969.4 1654.1 981.8 1656.1 990.7C1658.1 999.6 1657.9 1005 1657.5 1012.1C1657 1019.2 1655.7 1025.4 1653.5 1033.4C1651.2 1041.4 1647.2 1049.9 1644.1 1060.1C1641 1070.4 1637 1084.6 1634.8 1094.8C1632.6 1105.1 1631 1113.9 1630.8 1121.5C1630.5 1129.1 1632.1 1135.1 1633.4 1140.2C1634.8 1145.3 1637.9 1150.2 1638.8 1152.2" stroke-width="5.3"/>
<path d="M1557.6 684.9C1553.1 685.1 1540.4 685.4 1531.1 685.7C1521.8 685.9 1511.5 686.2 1501.7 686.4C1491.9 686.7 1482.1 686.9 1472.3 687.1C1462.5 687.4 1452.7 687.6 1442.9 687.9C1433.1 688.1 1420.8 688.4 1413.5 688.6C1406.1 688.9 1401.2 689.2 1398.8 689.4" stroke-width="5.9"/>
<path d="M1571.2 632.5C1571.2 628.3 1571.9 615.4 1571.2 607.5C1570.6 599.6 1569.6 593.3 1567.5 585C1565.4 576.7 1561.9 567.1 1558.8 557.5C1555.6 547.9 1552.1 537.5 1548.8 527.5C1545.4 517.5 1542.5 507.9 1538.8 497.5C1535 487.1 1530.4 475.2 1526.2 465C1522.1 454.8 1518.1 444.8 1513.8 436.2C1509.4 427.7 1502.3 417.5 1500 413.8" stroke-width="7.3"/>
<path d="M1571.2 625C1570.7 628.3 1569.1 639.2 1568 645C1566.9 650.8 1565.4 650.8 1564.5 660C1563.6 669.2 1562.1 687.1 1562.5 700C1562.9 712.9 1564.6 725 1567 737.5C1569.4 750 1573.2 762.5 1577 775C1580.8 787.5 1585.2 800 1589.5 812.5C1593.8 825 1598.2 837.5 1602.5 850C1606.8 862.5 1610.8 875.4 1615 887.5C1619.2 899.6 1624.6 914.6 1627.5 922.5C1630.4 930.4 1631.7 932.9 1632.5 935" stroke-width="8.3"/>
</g>
<circle cx="1388.8" cy="73.8" r="13.2" fill="#D3D8DA"/>
<circle cx="1192.5" cy="106.2" r="13.2" fill="#D3D8DA"/>
<circle cx="1194.5" cy="182" r="13.2" fill="#D3D8DA"/>
<circle cx="1255.5" cy="196.2" r="13.2" fill="#D3D8DA"/>
<circle cx="1285.8" cy="278.8" r="13.2" fill="#D3D8DA"/>
<circle cx="1192.5" cy="321.2" r="13.2" fill="#D3D8DA"/>
<circle cx="1380.5" cy="106.2" r="13.2" fill="#D3D8DA"/>
<circle cx="1425" cy="110" r="13.2" fill="#D3D8DA"/>
<circle cx="1382.5" cy="192.5" r="13.2" fill="#D3D8DA"/>
<circle cx="1375" cy="197.5" r="13.2" fill="#D3D8DA"/>
<circle cx="1595.8" cy="343.5" r="13.2" fill="#D3D8DA"/>
<circle cx="1395" cy="422.5" r="13.2" fill="#D3D8DA"/>
<circle cx="1391.2" cy="433.8" r="13.2" fill="#D3D8DA"/>
<circle cx="1389.5" cy="442.5" r="13.2" fill="#D3D8DA"/>
<circle cx="1227.5" cy="486.2" r="13.2" fill="#D3D8DA"/>
<circle cx="1212.5" cy="491.2" r="13.2" fill="#D3D8DA"/>
<circle cx="1198.8" cy="501.2" r="13.2" fill="#D3D8DA"/>
<circle cx="1185" cy="511.2" r="13.2" fill="#D3D8DA"/>
<circle cx="1388.8" cy="536.2" r="13.2" fill="#D3D8DA"/>
<circle cx="1381.2" cy="548.8" r="13.2" fill="#D3D8DA"/>
<circle cx="1152.5" cy="554.5" r="13.2" fill="#D3D8DA"/>
<circle cx="1150" cy="567" r="13.2" fill="#D3D8DA"/>
<circle cx="1201.2" cy="551.2" r="13.2" fill="#D3D8DA"/>
<circle cx="1248.8" cy="582" r="13.2" fill="#D3D8DA"/>
<circle cx="1196.2" cy="590" r="13.2" fill="#D3D8DA"/>
<circle cx="1233.8" cy="630" r="13.2" fill="#D3D8DA"/>
<circle cx="1565.5" cy="434.2" r="13.2" fill="#D3D8DA"/>
<circle cx="1567.5" cy="487.5" r="13.2" fill="#D3D8DA"/>
<circle cx="1728" cy="473.8" r="13.2" fill="#D3D8DA"/>
<circle cx="1711.2" cy="498" r="13.2" fill="#D3D8DA"/>
<circle cx="1232.5" cy="641" r="13.2" fill="#D3D8DA"/>
<circle cx="1246.2" cy="650" r="13.2" fill="#D3D8DA"/>
<circle cx="1177" cy="673.8" r="13.2" fill="#D3D8DA"/>
<circle cx="1173" cy="683" r="13.2" fill="#D3D8DA"/>
<circle cx="1378" cy="652" r="13.2" fill="#D3D8DA"/>
<circle cx="1374.2" cy="662" r="13.2" fill="#D3D8DA"/>
<circle cx="1432.5" cy="661.2" r="13.2" fill="#D3D8DA"/>
<circle cx="1128" cy="741.8" r="13.2" fill="#D3D8DA"/>
<circle cx="1153" cy="787" r="13.2" fill="#D3D8DA"/>
<circle cx="1163.8" cy="793.8" r="13.2" fill="#D3D8DA"/>
<circle cx="1180.5" cy="790.5" r="13.2" fill="#D3D8DA"/>
<circle cx="1230.5" cy="768.8" r="13.2" fill="#D3D8DA"/>
<circle cx="1154.2" cy="823.2" r="13.2" fill="#D3D8DA"/>
<circle cx="1228.2" cy="848.8" r="13.2" fill="#D3D8DA"/>
<circle cx="1391.2" cy="750.8" r="13.2" fill="#D3D8DA"/>
<circle cx="1394.5" cy="762.5" r="13.2" fill="#D3D8DA"/>
<circle cx="1400" cy="772.5" r="13.2" fill="#D3D8DA"/>
<circle cx="1404.5" cy="780" r="13.2" fill="#D3D8DA"/>
<circle cx="1412" cy="848.8" r="13.2" fill="#D3D8DA"/>
<circle cx="1402.5" cy="857.5" r="13.2" fill="#D3D8DA"/>
<circle cx="1183" cy="879.5" r="13.2" fill="#D3D8DA"/>
<circle cx="1164.2" cy="904.5" r="13.2" fill="#D3D8DA"/>
<circle cx="1131.2" cy="914.5" r="13.2" fill="#D3D8DA"/>
<circle cx="1146.2" cy="921.2" r="13.2" fill="#D3D8DA"/>
<circle cx="1322.5" cy="910.8" r="13.2" fill="#D3D8DA"/>
<circle cx="1429.5" cy="925" r="13.2" fill="#D3D8DA"/>
<circle cx="1475" cy="927.5" r="13.2" fill="#D3D8DA"/>
<circle cx="1886.2" cy="658" r="13.2" fill="#D3D8DA"/>
<circle cx="1894.5" cy="682" r="13.2" fill="#D3D8DA"/>
<circle cx="1844.5" cy="704.5" r="13.2" fill="#D3D8DA"/>
<circle cx="1861.2" cy="718.8" r="13.2" fill="#D3D8DA"/>
<circle cx="1857" cy="730" r="13.2" fill="#D3D8DA"/>
<circle cx="1755" cy="737.5" r="13.2" fill="#D3D8DA"/>
<circle cx="1825" cy="791.2" r="13.2" fill="#D3D8DA"/>
<circle cx="1824.2" cy="807" r="13.2" fill="#D3D8DA"/>
<circle cx="1776.2" cy="807" r="13.2" fill="#D3D8DA"/>
<circle cx="1551.8" cy="861.2" r="13.2" fill="#D3D8DA"/>
<circle cx="1561.2" cy="885" r="13.2" fill="#D3D8DA"/>
<circle cx="1739.5" cy="864.5" r="13.2" fill="#D3D8DA"/>
<circle cx="1859.3" cy="869.2" r="13.2" fill="#D3D8DA"/>
<circle cx="1861.9" cy="874.4" r="13.2" fill="#D3D8DA"/>
<circle cx="1894.1" cy="888.4" r="13.2" fill="#D3D8DA"/>
<circle cx="1895" cy="898.8" r="13.2" fill="#D3D8DA"/>
<circle cx="1934.2" cy="884.9" r="13.2" fill="#D3D8DA"/>
<circle cx="1955.9" cy="881.4" r="13.2" fill="#D3D8DA"/>
<circle cx="1984.7" cy="864.8" r="13.2" fill="#D3D8DA"/>
<circle cx="1985.5" cy="879.6" r="13.2" fill="#D3D8DA"/>
<circle cx="1983.8" cy="902.3" r="13.2" fill="#D3D8DA"/>
<circle cx="2009" cy="888.4" r="13.2" fill="#D3D8DA"/>
<circle cx="2011.7" cy="913.6" r="13.2" fill="#D3D8DA"/>
<circle cx="1984.7" cy="925.8" r="13.2" fill="#D3D8DA"/>
<circle cx="2006.4" cy="925.8" r="13.2" fill="#D3D8DA"/>
<circle cx="1919" cy="924.9" r="13.2" fill="#D3D8DA"/>
<circle cx="1842.7" cy="931" r="13.2" fill="#D3D8DA"/>
<circle cx="1841" cy="939.7" r="13.2" fill="#D3D8DA"/>
<circle cx="1881.9" cy="962.4" r="13.2" fill="#D3D8DA"/>
<circle cx="1897.6" cy="978.1" r="13.2" fill="#D3D8DA"/>
<circle cx="1869.2" cy="993.7" r="13.2" fill="#D3D8DA"/>
<circle cx="1922" cy="985" r="13.2" fill="#D3D8DA"/>
<circle cx="1916.7" cy="996.3" r="13.2" fill="#D3D8DA"/>
<circle cx="1944.6" cy="985" r="13.2" fill="#D3D8DA"/>
<circle cx="1939.4" cy="990.2" r="13.2" fill="#D3D8DA"/>
<circle cx="1903.7" cy="1007.7" r="13.2" fill="#D3D8DA"/>
<circle cx="1978.6" cy="974.6" r="13.2" fill="#D3D8DA"/>
<circle cx="2007.3" cy="994.1" r="13.2" fill="#D3D8DA"/>
<circle cx="1877.5" cy="1025.1" r="13.2" fill="#D3D8DA"/>
<circle cx="1875.8" cy="1033.8" r="13.2" fill="#D3D8DA"/>
<circle cx="2022.1" cy="1025.1" r="13.2" fill="#D3D8DA"/>
<circle cx="2016" cy="1034.7" r="13.2" fill="#D3D8DA"/>
<circle cx="1845.3" cy="1054.7" r="13.2" fill="#D3D8DA"/>
<circle cx="1724.2" cy="1026.8" r="13.2" fill="#D3D8DA"/>
<circle cx="1805" cy="1085.5" r="13.2" fill="#D3D8DA"/>
<circle cx="1907" cy="1104.2" r="13.2" fill="#D3D8DA"/>
<circle cx="1889.1" cy="1117.5" r="13.2" fill="#D3D8DA"/>
<circle cx="1571.5" cy="1059.6" r="13.2" fill="#D3D8DA"/>
<circle cx="1603.5" cy="1063.3" r="13.2" fill="#D3D8DA"/>
<circle cx="1495.5" cy="1067.5" r="13.2" fill="#D3D8DA"/>
<circle cx="1493.8" cy="1080" r="13.2" fill="#D3D8DA"/>
<circle cx="1503.5" cy="1090" r="13.2" fill="#D3D8DA"/>
<circle cx="1597.4" cy="1088.1" r="13.2" fill="#D3D8DA"/>
<circle cx="1612.1" cy="1098.8" r="13.2" fill="#D3D8DA"/>
<circle cx="1600.9" cy="1124.2" r="13.2" fill="#D3D8DA"/>
<circle cx="1514.7" cy="1126.3" r="13.2" fill="#D3D8DA"/>
<circle cx="1520" cy="1140.2" r="13.2" fill="#D3D8DA"/>
<circle cx="1529.4" cy="1153.5" r="13.2" fill="#D3D8DA"/>
<circle cx="1540" cy="1164.6" r="13.2" fill="#D3D8DA"/>
<circle cx="1543" cy="1175" r="13.2" fill="#D3D8DA"/>
<circle cx="1552" cy="1181.6" r="13.2" fill="#D3D8DA"/>
<circle cx="1670.8" cy="1133.5" r="13.2" fill="#D3D8DA"/>
<circle cx="1694.8" cy="1142.9" r="13.2" fill="#D3D8DA"/>
<circle cx="1706.8" cy="1149.5" r="13.2" fill="#D3D8DA"/>
<circle cx="1729.5" cy="1146.9" r="13.2" fill="#D3D8DA"/>
<circle cx="1744.2" cy="1138.9" r="13.2" fill="#D3D8DA"/>
<circle cx="1740.2" cy="1124.2" r="13.2" fill="#D3D8DA"/>
<circle cx="1753.5" cy="1113.5" r="13.2" fill="#D3D8DA"/>
<circle cx="1650.8" cy="1152.2" r="13.2" fill="#D3D8DA"/>
<circle cx="1798.9" cy="1151.4" r="13.2" fill="#D3D8DA"/>
<circle cx="1600.9" cy="1164.2" r="13.2" fill="#D3D8DA"/>
<circle cx="1603.5" cy="1178.5" r="13.2" fill="#D3D8DA"/>
<circle cx="1666.5" cy="1182.2" r="13.2" fill="#D3D8DA"/>
<circle cx="1648" cy="1188" r="13.2" fill="#D3D8DA"/>
<circle cx="1605.2" cy="1202.7" r="13.2" fill="#D3D8DA"/>
<circle cx="1624.2" cy="1209.8" r="13.2" fill="#D3D8DA"/>
<circle cx="1840.2" cy="1245.5" r="13.2" fill="#D3D8DA"/>
<circle cx="1820.5" cy="1261.2" r="13.2" fill="#D3D8DA"/>
<circle cx="1571.8" cy="1271.2" r="13.2" fill="#D3D8DA"/>
<circle cx="1561.2" cy="1285" r="13.2" fill="#D3D8DA"/>
<circle cx="1520" cy="1286.2" r="13.2" fill="#D3D8DA"/>
<circle cx="1545" cy="1300.5" r="13.2" fill="#D3D8DA"/>
<circle cx="1278.8" cy="968" r="13.2" fill="#D3D8DA"/>
<circle cx="1441.2" cy="940" r="13.2" fill="#D3D8DA"/>
<circle cx="1387.5" cy="1043.8" r="13.2" fill="#D3D8DA"/>
<circle cx="1420.5" cy="1116.8" r="13.2" fill="#D3D8DA"/>
<circle cx="1403" cy="71.2" r="13.2" fill="#13A4CF"/>
<circle cx="1181.8" cy="132" r="13.2" fill="#7CD0EA"/>
<circle cx="1217" cy="152.5" r="13.2" fill="#7CD0EA"/>
<circle cx="1139.5" cy="160.5" r="13.2" fill="#7CD0EA"/>
<circle cx="1250.8" cy="244.5" r="13.2" fill="#7CD0EA"/>
<circle cx="1149.5" cy="260.5" r="13.2" fill="#7CD0EA"/>
<circle cx="1312.5" cy="306.2" r="13.2" fill="#7CD0EA"/>
<circle cx="1310" cy="216.2" r="13.2" fill="#7CD0EA"/>
<circle cx="1371.2" cy="160" r="13.2" fill="#13A4CF"/>
<circle cx="1186" cy="386" r="13.2" fill="#7CD0EA"/>
<circle cx="1190" cy="397.5" r="13.2" fill="#7CD0EA"/>
<circle cx="1178" cy="595" r="13.2" fill="#7CD0EA"/>
<circle cx="1731.2" cy="485.5" r="13.2" fill="#7CD0EA"/>
<circle cx="1958.8" cy="458.2" r="13.2" fill="#06192B"/>
<circle cx="2002.8" cy="469.6" r="13.2" fill="#7CD0EA"/>
<circle cx="1999.6" cy="499.6" r="13.2" fill="#7CD0EA"/>
<circle cx="1848.8" cy="553" r="13.2" fill="#13A4CF"/>
<circle cx="1887" cy="576.2" r="13.2" fill="#13A4CF"/>
<circle cx="1928" cy="583" r="13.2" fill="#7CD0EA"/>
<circle cx="1931.2" cy="592.5" r="13.2" fill="#7CD0EA"/>
<circle cx="1918.8" cy="603.8" r="13.2" fill="#7CD0EA"/>
<circle cx="1088.8" cy="758.8" r="13.2" fill="#7CD0EA"/>
<circle cx="1087.5" cy="775" r="13.2" fill="#7CD0EA"/>
<circle cx="1363.8" cy="885" r="13.2" fill="#7CD0EA"/>
<circle cx="1652" cy="928.5" r="13.2" fill="#7CD0EA"/>
<circle cx="1800.9" cy="938.9" r="13.2" fill="#7CD0EA"/>
<circle cx="1614" cy="1130.9" r="13.2" fill="#7CD0EA"/>
<circle cx="1288" cy="109.5" r="13.2" fill="#06192B"/>
<circle cx="1167.5" cy="166.2" r="13.2" fill="#13A4CF"/>
<circle cx="1328.2" cy="175" r="13.2" fill="#13A4CF"/>
<circle cx="1321.2" cy="208.8" r="13.2" fill="#D3D8DA"/>
<circle cx="1380" cy="152.5" r="13.2" fill="#D3D8DA"/>
<circle cx="1174.5" cy="605.5" r="13.2" fill="#D3D8DA"/>
<circle cx="1967.8" cy="464.6" r="13.2" fill="#13A4CF"/>
<circle cx="1922.2" cy="480.5" r="13.2" fill="#13A4CF"/>
<circle cx="1994.9" cy="510" r="13.2" fill="#D3D8DA"/>
<circle cx="1968.9" cy="516.2" r="13.2" fill="#13A4CF"/>
<circle cx="1847.5" cy="541.5" r="13.2" fill="#7CD0EA"/>
<circle cx="1892.5" cy="565" r="13.2" fill="#D3D8DA"/>
<circle cx="1106.8" cy="780.5" r="13.2" fill="#D3D8DA"/>
<circle cx="1108.8" cy="791.2" r="13.2" fill="#D3D8DA"/>
<circle cx="1105" cy="803" r="13.2" fill="#D3D8DA"/>
<circle cx="1113" cy="812.5" r="13.2" fill="#D3D8DA"/>
<circle cx="1375" cy="871.2" r="13.2" fill="#D3D8DA"/>
<circle cx="1632.5" cy="896.5" r="13.2" fill="#13A4CF"/>
<circle cx="1789.6" cy="946.7" r="13.2" fill="#D3D8DA"/>
<circle cx="1783.5" cy="955.4" r="13.2" fill="#D3D8DA"/>
<circle cx="1558.7" cy="1098" r="13.2" fill="#13A4CF"/>
<circle cx="1301.2" cy="92" r="13.2" fill="#06192B"/>
<circle cx="1308" cy="122.5" r="13.2" fill="#06192B"/>
<circle cx="1309.5" cy="140" r="13.2" fill="#06192B"/>
<circle cx="1302" cy="152.5" r="13.2" fill="#06192B"/>
<circle cx="1298.8" cy="164" r="13.2" fill="#06192B"/>
<circle cx="1301" cy="178" r="13.2" fill="#06192B"/>
<circle cx="1298" cy="191" r="13.2" fill="#06192B"/>
<circle cx="1140" cy="138" r="13.2" fill="#06192B"/>
<circle cx="1153.8" cy="192.5" r="13.2" fill="#06192B"/>
<circle cx="1150.5" cy="207" r="13.2" fill="#06192B"/>
<circle cx="1128.8" cy="224.5" r="13.2" fill="#06192B"/>
<circle cx="1124.5" cy="237" r="13.2" fill="#06192B"/>
<circle cx="1228.8" cy="223" r="13.2" fill="#06192B"/>
<circle cx="1191.8" cy="237" r="13.2" fill="#06192B"/>
<circle cx="1213.2" cy="261.2" r="13.2" fill="#06192B"/>
<circle cx="1191.8" cy="284.5" r="13.2" fill="#06192B"/>
<circle cx="1153" cy="327.5" r="13.2" fill="#06192B"/>
<circle cx="1273.8" cy="325" r="13.2" fill="#06192B"/>
<circle cx="1277" cy="337" r="13.2" fill="#06192B"/>
<circle cx="1275" cy="346.5" r="13.2" fill="#06192B"/>
<circle cx="1153.5" cy="340" r="13.2" fill="#06192B"/>
<circle cx="1167.5" cy="349.5" r="13.2" fill="#06192B"/>
<circle cx="1355" cy="310" r="13.2" fill="#06192B"/>
<circle cx="1362.5" cy="298.8" r="13.2" fill="#06192B"/>
<circle cx="1310" cy="227.5" r="13.2" fill="#06192B"/>
<circle cx="1458" cy="130" r="13.2" fill="#06192B"/>
<circle cx="1395" cy="147.5" r="13.2" fill="#06192B"/>
<circle cx="1438.8" cy="161.2" r="13.2" fill="#06192B"/>
<circle cx="1458" cy="171.2" r="13.2" fill="#06192B"/>
<circle cx="1487.5" cy="191.2" r="13.2" fill="#06192B"/>
<circle cx="1504.5" cy="185.2" r="13.2" fill="#06192B"/>
<circle cx="1469.8" cy="217" r="13.2" fill="#06192B"/>
<circle cx="1472.5" cy="255" r="13.2" fill="#06192B"/>
<circle cx="1529.5" cy="230" r="13.2" fill="#06192B"/>
<circle cx="1171.2" cy="360" r="13.2" fill="#06192B"/>
<circle cx="1172.5" cy="379.5" r="13.2" fill="#06192B"/>
<circle cx="1237.5" cy="393" r="13.2" fill="#06192B"/>
<circle cx="1244.5" cy="405" r="13.2" fill="#06192B"/>
<circle cx="1406.2" cy="410" r="13.2" fill="#06192B"/>
<circle cx="1868.8" cy="588.2" r="13.2" fill="#06192B"/>
<circle cx="1846.2" cy="637.5" r="13.2" fill="#06192B"/>
<circle cx="1830.5" cy="652" r="13.2" fill="#06192B"/>
<circle cx="1893.2" cy="670.8" r="13.2" fill="#06192B"/>
<circle cx="1525" cy="1228.9" r="13.2" fill="#06192B"/>
<circle cx="1381.8" cy="297.5" r="13.2" fill="#D3D8DA"/>
<circle cx="1396.2" cy="292.5" r="13.2" fill="#D3D8DA"/>
<circle cx="1428.8" cy="126.2" r="13.2" fill="#13A4CF"/>
<circle cx="1441.2" cy="122.5" r="13.2" fill="#13A4CF"/>
<circle cx="1471.5" cy="140" r="13.2" fill="#13A4CF"/>
<circle cx="1401.8" cy="161.2" r="13.2" fill="#7CD0EA"/>
<circle cx="1472.5" cy="165" r="13.2" fill="#13A4CF"/>
<circle cx="1484" cy="176.2" r="13.2" fill="#13A4CF"/>
<circle cx="1486.5" cy="251.2" r="13.2" fill="#13A4CF"/>
<circle cx="1525.8" cy="250" r="13.2" fill="#D3D8DA"/>
<circle cx="1540" cy="256.2" r="13.2" fill="#D3D8DA"/>
<circle cx="1553.8" cy="260" r="13.2" fill="#D3D8DA"/>
<circle cx="1545.7" cy="1239.5" r="13.2" fill="#13A4CF"/>
<circle cx="1564.2" cy="274.5" r="13.2" fill="#06192B"/>
<text class="b" x="1025.5" y="285" font-size="29">TK</text>
<text class="b" x="1790" y="283.8" font-size="29">TKL</text>
<text class="b" x="1948" y="411.3" font-size="29">STE</text>
<text class="b" x="1910" y="737" font-size="29">CK1</text>
<text class="b" x="1930" y="1066" font-size="29">AGC</text>
<text class="b" x="1646.5" y="1249.3" font-size="29">CAMK</text>
<text class="b" x="1051.5" y="642.5" font-size="29">CMGC</text>
<text x="1270.5" y="68.1" font-size="25.3">TRKC</text>
<text x="1201.5" y="118.1" font-size="25.3">TRKB</text>
<text x="1332" y="136.9" font-size="25.3">TRKA</text>
<text x="1080.5" y="195.6" font-size="25.3">YES</text>
<text x="1058.5" y="221.9" font-size="25.3">LYN</text>
<text x="1049.5" y="244.4" font-size="25.3">HCK</text>
<text x="1168.5" y="214.4" font-size="25.3">FYN</text>
<text x="1218.8" y="296.6" font-size="25.3">FGR</text>
<text x="1120.8" y="296.6" font-size="25.3">BLK</text>
<text x="1086.3" y="317.90000000000003" font-size="25.3">TEC</text>
<text x="1083.8" y="347.90000000000003" font-size="25.3">TXK</text>
<text x="1194.3" y="359.1" font-size="25.3" style="fill:#D0202A">BTK</text>
<text x="1199.3" y="332.90000000000003" font-size="25.3">FRK</text>
<text x="1389.5" y="208.1" font-size="25.3">EGFR</text>
<text x="1100.8" y="386.6" font-size="25.3">CSK</text>
<text x="1252.8" y="389.1" font-size="25.3">BRK</text>
<text x="1795.3" y="620.4" font-size="25.3">MEK1</text>
<text x="1741.3" y="660.4" font-size="25.3">MEK2</text>
<g stroke="#000" stroke-width="2.6" stroke-linecap="butt">
<line x1="1301.25" y1="73.75" x2="1301.25" y2="81"/>
<line x1="1268.75" y1="110" x2="1277" y2="110"/>
<line x1="1320" y1="123.75" x2="1330" y2="125"/>
<line x1="1135" y1="187.5" x2="1142" y2="189.5"/>
<line x1="1111.25" y1="215" x2="1118" y2="219"/>
<line x1="1105" y1="237" x2="1113" y2="237"/>
<line x1="1191.75" y1="217.5" x2="1191.75" y2="226"/>
<line x1="1222.5" y1="266.25" x2="1230" y2="271.25"/>
<line x1="1172.5" y1="286.25" x2="1180" y2="285"/>
<line x1="1137.5" y1="313.75" x2="1144" y2="319"/>
<line x1="1135" y1="340" x2="1142" y2="340"/>
<line x1="1181.25" y1="349.25" x2="1188.75" y2="349.25"/>
<line x1="1253.75" y1="325" x2="1262" y2="325"/>
<line x1="1461.25" y1="198" x2="1477" y2="193.5"/>
<line x1="1153" y1="379.5" x2="1161" y2="379.5"/>
<line x1="1275" y1="357.5" x2="1275" y2="364.5"/>
<line x1="1832.5" y1="623.75" x2="1838" y2="629"/>
<line x1="1811.25" y1="652" x2="1818" y2="652"/>
</g>
<text x="1076.5" y="1100" font-size="29">% inhibition</text>
<circle cx="1083.3" cy="1127.5" r="8.7" fill="#06192B"/>
<text x="1100.5" y="1136.3" font-size="29">&gt; 90%</text>
<circle cx="1083.3" cy="1163" r="8.7" fill="#13A4CF"/>
<text x="1100.5" y="1171.5" font-size="29">&gt; 75% &amp; ≤ 90%</text>
<circle cx="1083.3" cy="1197.5" r="8.7" fill="#7CD0EA"/>
<text x="1100.5" y="1207" font-size="29">&gt; 50% &amp; ≤ 75%</text>
<circle cx="1083.3" cy="1232.5" r="8.7" fill="#D3D8DA"/>
<text x="1100.5" y="1242" font-size="29">≤ 50%</text>
</svg></body></html>
